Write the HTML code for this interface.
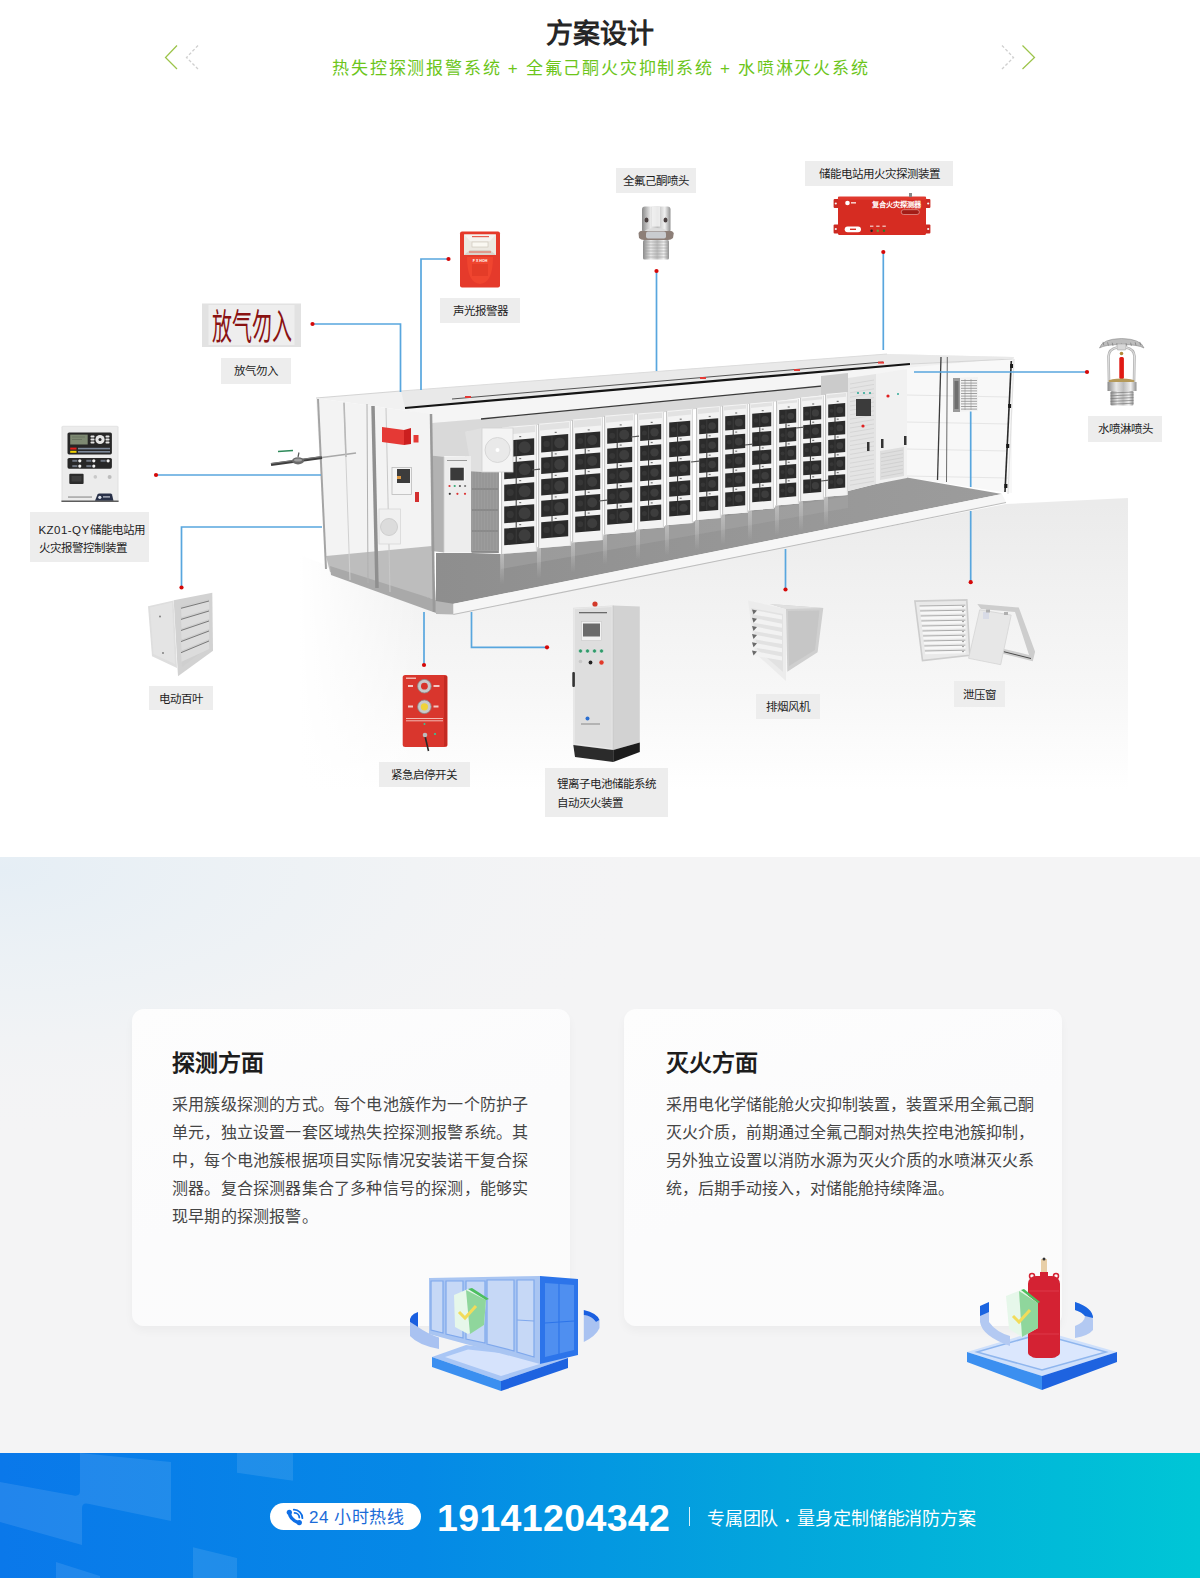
<!DOCTYPE html>
<html lang="zh-CN"><head><meta charset="utf-8">
<style>
*{margin:0;padding:0;box-sizing:border-box}
html,body{width:1200px;height:1578px;overflow:hidden;background:#fff}
body{font-family:"Liberation Sans",sans-serif;position:relative;color:#333}
.abs{position:absolute}
#sec1{position:absolute;left:0;top:0;width:1200px;height:857px;background:#fff;overflow:hidden}
#title{position:absolute;left:0;top:14px;width:1200px;text-align:center;font-size:27px;font-weight:bold;color:#262626;line-height:40px;letter-spacing:0px}
#sub{position:absolute;left:1px;top:55.5px;width:1200px;text-align:center;font-size:17px;color:#6cc51a;line-height:26px;letter-spacing:1.76px;white-space:nowrap}
.lbl{position:absolute;background:#ededed;color:#1e1e1e;font-size:11.5px;font-weight:500;line-height:25px;text-align:center;white-space:nowrap}
#sec2{position:absolute;left:0;top:857px;width:1200px;height:596px;background:#f4f4f5;overflow:hidden}
.card{position:absolute;top:152px;width:438px;height:317px;border-radius:12px;background:linear-gradient(160deg,#fdfdfd 0%,#fbfbfc 50%,#fbfbfb 100%);box-shadow:0 5px 10px rgba(0,0,0,0.035)}
.card h3{position:absolute;left:40px;top:38px;font-size:23px;line-height:32px;color:#1d1d1d;font-weight:bold}
.card .txt{position:absolute;left:40px;top:82px;font-size:16px;line-height:28px;color:#454545;white-space:nowrap;letter-spacing:0.2px}
#sec3{position:absolute;left:0;top:1453px;width:1200px;height:125px;background:linear-gradient(90deg,#0a78ea 0%,#0589e6 35%,#03a6dc 65%,#00c6d6 100%);overflow:hidden}
</style></head><body>
<div id="sec1">
<svg class="abs" style="left:0;top:0" width="1200" height="857" viewBox="0 0 1200 857">
<defs>
<linearGradient id="shad" gradientUnits="userSpaceOnUse" x1="0" y1="505" x2="0" y2="790"><stop offset="0" stop-color="#ebebeb"/><stop offset="0.3" stop-color="#f1f1f1"/><stop offset="0.65" stop-color="#f7f7f7"/><stop offset="1" stop-color="#fff"/></linearGradient>
<linearGradient id="shadL" x1="0" y1="0" x2="1" y2="0"><stop offset="0" stop-color="#fff" stop-opacity="1"/><stop offset="1" stop-color="#fff" stop-opacity="0"/></linearGradient>
<linearGradient id="floorg" x1="0" y1="0" x2="1" y2="0"><stop offset="0" stop-color="#8e8e8e"/><stop offset="0.5" stop-color="#969696"/><stop offset="1" stop-color="#9c9c9c"/></linearGradient>
<linearGradient id="glassg" x1="0" y1="0" x2="0" y2="1"><stop offset="0" stop-color="#f2f2f2"/><stop offset="0.8" stop-color="#e6e6e6"/><stop offset="1" stop-color="#cfcfcf"/></linearGradient>
</defs>
<polygon points="300.0,555.0 449.0,612.0 1006.0,504.0 1128.0,498.0 1128.0,810.0 300.0,810.0" fill="url(#shad)" />
<rect x="299.0" y="540.0" width="130.0" height="280.0" fill="url(#shadL)" />
<polygon points="316.0,398.0 401.0,391.0 887.0,354.0 1014.0,357.0 1012.0,372.0 904.0,372.0 848.0,378.0 470.0,424.0 432.0,430.0 430.0,414.0" fill="#f1f1f1" />
<polygon points="401.0,391.0 887.0,354.0 1014.0,357.0 1012.0,361.0 910.0,364.0 405.0,408.0" fill="#e9e9e9" />
<polygon points="405.0,408.0 910.0,364.0 906.0,371.0 863.0,382.0 481.0,419.0 432.0,423.0" fill="#f5f5f5" />
<polygon points="432.0,423.0 481.0,419.0 863.0,382.0 906.0,371.0 906.0,377.0 848.0,380.0 848.0,394.0 825.0,395.0 800.0,398.0 776.0,401.5 749.0,404.0 722.0,406.5 696.0,409.0 666.0,412.0 637.0,414.5 604.0,417.0 572.0,421.0 538.0,425.0 501.0,429.0 465.0,432.0 432.0,440.0" fill="#d9d9d9" />
<polygon points="904.0,368.0 1012.0,358.0 1012.0,493.0 1002.0,492.0 904.0,477.0" fill="#f8f8f8" />
<line x1="906" y1="395" x2="1008" y2="397" stroke="#e6e6e6" stroke-width="1" />
<line x1="906" y1="422" x2="1008" y2="424" stroke="#e6e6e6" stroke-width="1" />
<line x1="906" y1="449" x2="1008" y2="451" stroke="#e6e6e6" stroke-width="1" />
<line x1="906" y1="476" x2="1008" y2="478" stroke="#e6e6e6" stroke-width="1" />
<polygon points="316.0,398.0 430.0,414.0 432.0,553.0 326.0,568.0" fill="#f3f3f3" />
<polygon points="326.0,556.0 432.0,546.0 436.0,600.0 330.0,572.0" fill="#bdbdbd" />
<polygon points="330.0,566.0 436.0,600.0 436.0,613.0 331.0,575.0" fill="#a9a9a9" />
<polygon points="436.0,604.0 453.0,604.0 1002.0,494.0 904.0,477.0 848.0,491.0 848.0,495.0 825.0,496.8 824.0,499.3 800.0,501.3 799.0,503.6 776.0,505.4 774.0,508.4 749.0,510.4 748.0,512.6 722.0,514.6 721.0,518.0 696.0,520.0 693.0,523.0 666.0,525.2 664.0,527.4 637.0,529.6 635.0,532.0 604.0,534.4 603.0,540.0 572.0,542.4 571.0,545.6 538.0,548.2 537.0,551.2 501.0,554.0 472.0,553.0 436.0,553.0" fill="url(#floorg)" />
<polygon points="501.0,553.0 848.0,496.0 848.0,508.0 501.0,569.0" fill="#a5a5a5" opacity="0.5"/>
<defs><linearGradient id="refl" x1="0" y1="0" x2="0" y2="1"><stop offset="0" stop-color="#c8c8c8" stop-opacity="0.7"/><stop offset="1" stop-color="#c8c8c8" stop-opacity="0"/></linearGradient></defs>
<rect x="500.0" y="554.0" width="4.0" height="30.0" fill="url(#refl)" />
<rect x="537.0" y="548.2" width="4.0" height="30.0" fill="url(#refl)" />
<rect x="571.0" y="542.4" width="4.0" height="30.0" fill="url(#refl)" />
<rect x="603.0" y="534.4" width="4.0" height="30.0" fill="url(#refl)" />
<rect x="636.0" y="529.6" width="4.0" height="30.0" fill="url(#refl)" />
<rect x="665.0" y="525.2" width="4.0" height="30.0" fill="url(#refl)" />
<rect x="695.0" y="520.0" width="4.0" height="30.0" fill="url(#refl)" />
<rect x="721.0" y="514.6" width="4.0" height="30.0" fill="url(#refl)" />
<rect x="748.0" y="510.4" width="4.0" height="30.0" fill="url(#refl)" />
<rect x="775.0" y="505.4" width="4.0" height="30.0" fill="url(#refl)" />
<rect x="799.0" y="501.3" width="4.0" height="30.0" fill="url(#refl)" />
<rect x="824.0" y="496.8" width="4.0" height="30.0" fill="url(#refl)" />
<polygon points="453.3,603.7 1002.0,494.0 1006.0,502.0 453.3,614.0" fill="#f6f6f6" />
<line x1="453.3" y1="614.5" x2="1006" y2="502.5" stroke="#bdbdbd" stroke-width="1.1" />
<polygon points="436.0,601.0 453.3,603.7 453.3,614.5 436.0,614.0" fill="#b5b5b5" />
<line x1="316" y1="398" x2="401" y2="391" stroke="#d4d4d4" stroke-width="1" />
<line x1="401" y1="391" x2="887" y2="354" stroke="#dcdcdc" stroke-width="1" />
<line x1="452" y1="399" x2="883" y2="362" stroke="#555" stroke-width="1" />
<line x1="405" y1="408" x2="910" y2="364" stroke="#151515" stroke-width="2.2" />
<line x1="911" y1="364" x2="1012" y2="359" stroke="#d6d6d6" stroke-width="1.2" />
<line x1="481" y1="419" x2="863" y2="382" stroke="#3a3a3a" stroke-width="1.3" />
<rect x="465.0" y="396.0" width="6.0" height="2.0" fill="#e53935" />
<rect x="700.0" y="377.0" width="6.0" height="2.0" fill="#e53935" />
<rect x="794.0" y="369.0" width="6.0" height="2.0" fill="#e53935" />
<rect x="878.0" y="361.6" width="6.0" height="2.0" fill="#e53935" />
<polygon points="821.0,376.0 848.0,373.0 848.0,392.0 821.0,395.0" fill="#cbcbcb" />
<polygon points="471.0,466.0 499.0,466.0 499.0,553.0 471.0,552.4" fill="#9c9c9c" />
<line x1="472" y1="489" x2="498" y2="489" stroke="#7e7e7e" stroke-width="1.2" />
<line x1="472" y1="510" x2="498" y2="510" stroke="#7e7e7e" stroke-width="1.2" />
<line x1="472" y1="531" x2="498" y2="531" stroke="#7e7e7e" stroke-width="1.2" />
<line x1="472" y1="552" x2="498" y2="552" stroke="#7e7e7e" stroke-width="1.2" />
<line x1="474" y1="470" x2="474" y2="550" stroke="#8e8e8e" stroke-width="0.6" />
<line x1="477" y1="470" x2="477" y2="550" stroke="#8e8e8e" stroke-width="0.6" />
<line x1="480" y1="470" x2="480" y2="550" stroke="#8e8e8e" stroke-width="0.6" />
<line x1="483" y1="470" x2="483" y2="550" stroke="#8e8e8e" stroke-width="0.6" />
<line x1="486" y1="470" x2="486" y2="550" stroke="#8e8e8e" stroke-width="0.6" />
<line x1="489" y1="470" x2="489" y2="550" stroke="#8e8e8e" stroke-width="0.6" />
<line x1="492" y1="470" x2="492" y2="550" stroke="#8e8e8e" stroke-width="0.6" />
<line x1="495" y1="470" x2="495" y2="550" stroke="#8e8e8e" stroke-width="0.6" />
<line x1="498" y1="470" x2="498" y2="550" stroke="#8e8e8e" stroke-width="0.6" />
<polygon points="501.0,427.4 537.0,424.6 537.0,551.2 501.0,554.0" fill="#f3f3f3" />
<polygon points="503.0,428.4 535.0,425.6 535.0,432.1 503.0,434.9" fill="#e2e2e2" />
<line x1="501.6" y1="427.44" x2="501.6" y2="554.0400000000001" stroke="#c4c4c4" stroke-width="1.1" />
<line x1="536.4" y1="424.56" x2="536.4" y2="551.16" stroke="#d6d6d6" stroke-width="1" />
<polygon points="504.2,440.7 534.2,438.3 534.2,454.8 504.2,457.2" fill="#2b2b2b" />
<circle cx="524.6" cy="447.3" r="6.0" fill="#3d3d3d"/>
<circle cx="510.2" cy="448.5" r="3.6" fill="#363636"/>
<line x1="516.2" y1="440.724" x2="516.2" y2="455.2768" stroke="#404040" stroke-width="0.8" />
<polygon points="504.2,462.7 534.2,460.3 534.2,476.8 504.2,479.2" fill="#2b2b2b" />
<circle cx="524.6" cy="469.3" r="6.0" fill="#3d3d3d"/>
<circle cx="510.2" cy="470.5" r="3.6" fill="#363636"/>
<line x1="516.2" y1="462.7108" x2="516.2" y2="477.2636" stroke="#404040" stroke-width="0.8" />
<polygon points="504.2,484.7 534.2,482.3 534.2,498.8 504.2,501.2" fill="#2b2b2b" />
<circle cx="524.6" cy="491.3" r="6.0" fill="#3d3d3d"/>
<circle cx="510.2" cy="492.5" r="3.6" fill="#363636"/>
<line x1="516.2" y1="484.69759999999997" x2="516.2" y2="499.25039999999996" stroke="#404040" stroke-width="0.8" />
<polygon points="504.2,506.6 534.2,504.2 534.2,520.8 504.2,523.2" fill="#2b2b2b" />
<circle cx="524.6" cy="513.3" r="6.0" fill="#3d3d3d"/>
<circle cx="510.2" cy="514.4" r="3.6" fill="#363636"/>
<line x1="516.2" y1="506.6844" x2="516.2" y2="521.2372" stroke="#404040" stroke-width="0.8" />
<polygon points="504.2,528.6 534.2,526.2 534.2,542.8 504.2,545.2" fill="#2b2b2b" />
<circle cx="524.6" cy="535.3" r="6.0" fill="#3d3d3d"/>
<circle cx="510.2" cy="536.4" r="3.6" fill="#363636"/>
<line x1="516.2" y1="528.6712" x2="516.2" y2="543.224" stroke="#404040" stroke-width="0.8" />
<line x1="516.2" y1="456.2768" x2="516.2" y2="527.6712" stroke="#333" stroke-width="1" />
<rect x="519.2" y="436.0" width="2" height="1.2" fill="#777"/>
<rect x="519.2" y="458.0" width="2" height="1.2" fill="#777"/>
<rect x="519.2" y="480.0" width="2" height="1.2" fill="#777"/>
<rect x="519.2" y="502.0" width="2" height="1.2" fill="#777"/>
<rect x="519.2" y="524.0" width="2" height="1.2" fill="#777"/>
<polygon points="538.0,423.7 571.0,421.1 571.0,545.6 538.0,548.2" fill="#f3f3f3" />
<polygon points="540.0,424.7 569.0,422.1 569.0,427.9 540.0,430.5" fill="#e2e2e2" />
<line x1="538.6" y1="423.71999999999997" x2="538.6" y2="548.22" stroke="#c4c4c4" stroke-width="1.1" />
<line x1="570.4" y1="421.08" x2="570.4" y2="545.5799999999999" stroke="#d6d6d6" stroke-width="1" />
<polygon points="541.2,436.3 568.2,434.1 568.2,450.3 541.2,452.5" fill="#2b2b2b" />
<circle cx="559.6" cy="442.9" r="5.4" fill="#3d3d3d"/>
<circle cx="546.6" cy="443.9" r="3.2" fill="#363636"/>
<line x1="552.0" y1="436.4" x2="552.0" y2="450.58847999999995" stroke="#404040" stroke-width="0.8" />
<polygon points="541.2,457.8 568.2,455.6 568.2,471.8 541.2,474.0" fill="#2b2b2b" />
<circle cx="559.6" cy="464.4" r="5.4" fill="#3d3d3d"/>
<circle cx="546.6" cy="465.4" r="3.2" fill="#363636"/>
<line x1="552.0" y1="457.90288" x2="552.0" y2="472.09135999999995" stroke="#404040" stroke-width="0.8" />
<polygon points="541.2,479.3 568.2,477.1 568.2,493.3 541.2,495.5" fill="#2b2b2b" />
<circle cx="559.6" cy="485.9" r="5.4" fill="#3d3d3d"/>
<circle cx="546.6" cy="486.9" r="3.2" fill="#363636"/>
<line x1="552.0" y1="479.40576" x2="552.0" y2="493.59423999999996" stroke="#404040" stroke-width="0.8" />
<polygon points="541.2,500.8 568.2,498.6 568.2,514.8 541.2,517.0" fill="#2b2b2b" />
<circle cx="559.6" cy="507.4" r="5.4" fill="#3d3d3d"/>
<circle cx="546.6" cy="508.4" r="3.2" fill="#363636"/>
<line x1="552.0" y1="500.90863999999993" x2="552.0" y2="515.09712" stroke="#404040" stroke-width="0.8" />
<polygon points="541.2,522.3 568.2,520.1 568.2,536.3 541.2,538.5" fill="#2b2b2b" />
<circle cx="559.6" cy="528.9" r="5.4" fill="#3d3d3d"/>
<circle cx="546.6" cy="529.9" r="3.2" fill="#363636"/>
<line x1="552.0" y1="522.41152" x2="552.0" y2="536.6" stroke="#404040" stroke-width="0.8" />
<line x1="552.0" y1="451.58847999999995" x2="552.0" y2="521.41152" stroke="#333" stroke-width="1" />
<rect x="554.7" y="431.8" width="2" height="1.2" fill="#777"/>
<rect x="554.7" y="453.3" width="2" height="1.2" fill="#777"/>
<rect x="554.7" y="474.8" width="2" height="1.2" fill="#777"/>
<rect x="554.7" y="496.3" width="2" height="1.2" fill="#777"/>
<rect x="554.7" y="517.8" width="2" height="1.2" fill="#777"/>
<polygon points="572.0,419.6 603.0,417.2 603.0,540.0 572.0,542.4" fill="#f3f3f3" />
<polygon points="574.0,420.6 601.0,418.2 601.0,425.4 574.0,427.8" fill="#e2e2e2" />
<line x1="572.6" y1="419.64" x2="572.6" y2="542.44" stroke="#c4c4c4" stroke-width="1.1" />
<line x1="602.4" y1="417.15999999999997" x2="602.4" y2="539.96" stroke="#d6d6d6" stroke-width="1" />
<polygon points="575.2,433.6 600.2,431.6 600.2,447.2 575.2,449.2" fill="#2b2b2b" />
<circle cx="592.2" cy="440.1" r="5.0" fill="#3d3d3d"/>
<circle cx="580.2" cy="441.0" r="3.0" fill="#363636"/>
<line x1="585.2" y1="433.784" x2="585.2" y2="447.44975999999997" stroke="#404040" stroke-width="0.8" />
<polygon points="575.2,454.4 600.2,452.4 600.2,468.1 575.2,470.1" fill="#2b2b2b" />
<circle cx="592.2" cy="460.9" r="5.0" fill="#3d3d3d"/>
<circle cx="580.2" cy="461.8" r="3.0" fill="#363636"/>
<line x1="585.2" y1="454.59256" x2="585.2" y2="468.25831999999997" stroke="#404040" stroke-width="0.8" />
<polygon points="575.2,475.2 600.2,473.2 600.2,488.9 575.2,490.9" fill="#2b2b2b" />
<circle cx="592.2" cy="481.7" r="5.0" fill="#3d3d3d"/>
<circle cx="580.2" cy="482.6" r="3.0" fill="#363636"/>
<line x1="585.2" y1="475.40112" x2="585.2" y2="489.06687999999997" stroke="#404040" stroke-width="0.8" />
<polygon points="575.2,496.0 600.2,494.0 600.2,509.7 575.2,511.7" fill="#2b2b2b" />
<circle cx="592.2" cy="502.5" r="5.0" fill="#3d3d3d"/>
<circle cx="580.2" cy="503.4" r="3.0" fill="#363636"/>
<line x1="585.2" y1="496.20968" x2="585.2" y2="509.87543999999997" stroke="#404040" stroke-width="0.8" />
<polygon points="575.2,516.8 600.2,514.8 600.2,530.5 575.2,532.5" fill="#2b2b2b" />
<circle cx="592.2" cy="523.3" r="5.0" fill="#3d3d3d"/>
<circle cx="580.2" cy="524.3" r="3.0" fill="#363636"/>
<line x1="585.2" y1="517.01824" x2="585.2" y2="530.684" stroke="#404040" stroke-width="0.8" />
<line x1="585.2" y1="448.44975999999997" x2="585.2" y2="516.01824" stroke="#333" stroke-width="1" />
<rect x="587.7" y="429.3" width="2" height="1.2" fill="#777"/>
<rect x="587.7" y="450.1" width="2" height="1.2" fill="#777"/>
<rect x="587.7" y="470.9" width="2" height="1.2" fill="#777"/>
<rect x="587.7" y="491.7" width="2" height="1.2" fill="#777"/>
<rect x="587.7" y="512.5" width="2" height="1.2" fill="#777"/>
<polygon points="604.0,415.7 635.0,413.3 635.0,532.0 604.0,534.4" fill="#f3f3f3" />
<polygon points="606.0,416.7 633.0,414.3 633.0,420.3 606.0,422.7" fill="#e2e2e2" />
<line x1="604.6" y1="415.74" x2="604.6" y2="534.44" stroke="#c4c4c4" stroke-width="1.1" />
<line x1="634.4" y1="413.26" x2="634.4" y2="531.96" stroke="#d6d6d6" stroke-width="1" />
<polygon points="607.2,428.5 632.2,426.5 632.2,441.7 607.2,443.7" fill="#2b2b2b" />
<circle cx="624.2" cy="434.8" r="5.0" fill="#3d3d3d"/>
<circle cx="612.2" cy="435.7" r="3.0" fill="#363636"/>
<line x1="617.2" y1="428.68399999999997" x2="617.2" y2="441.93791999999996" stroke="#404040" stroke-width="0.8" />
<polygon points="607.2,448.7 632.2,446.7 632.2,462.0 607.2,464.0" fill="#2b2b2b" />
<circle cx="624.2" cy="455.0" r="5.0" fill="#3d3d3d"/>
<circle cx="612.2" cy="456.0" r="3.0" fill="#363636"/>
<line x1="617.2" y1="448.94552" x2="617.2" y2="462.19944" stroke="#404040" stroke-width="0.8" />
<polygon points="607.2,469.0 632.2,467.0 632.2,482.3 607.2,484.3" fill="#2b2b2b" />
<circle cx="624.2" cy="475.3" r="5.0" fill="#3d3d3d"/>
<circle cx="612.2" cy="476.2" r="3.0" fill="#363636"/>
<line x1="617.2" y1="469.20703999999995" x2="617.2" y2="482.46095999999994" stroke="#404040" stroke-width="0.8" />
<polygon points="607.2,489.3 632.2,487.3 632.2,502.5 607.2,504.5" fill="#2b2b2b" />
<circle cx="624.2" cy="495.5" r="5.0" fill="#3d3d3d"/>
<circle cx="612.2" cy="496.5" r="3.0" fill="#363636"/>
<line x1="617.2" y1="489.4685599999999" x2="617.2" y2="502.7224799999999" stroke="#404040" stroke-width="0.8" />
<polygon points="607.2,509.5 632.2,507.5 632.2,522.8 607.2,524.8" fill="#2b2b2b" />
<circle cx="624.2" cy="515.8" r="5.0" fill="#3d3d3d"/>
<circle cx="612.2" cy="516.8" r="3.0" fill="#363636"/>
<line x1="617.2" y1="509.73007999999993" x2="617.2" y2="522.9839999999999" stroke="#404040" stroke-width="0.8" />
<line x1="617.2" y1="442.93791999999996" x2="617.2" y2="508.73007999999993" stroke="#333" stroke-width="1" />
<rect x="619.7" y="424.3" width="2" height="1.2" fill="#777"/>
<rect x="619.7" y="444.5" width="2" height="1.2" fill="#777"/>
<rect x="619.7" y="464.8" width="2" height="1.2" fill="#777"/>
<rect x="619.7" y="485.1" width="2" height="1.2" fill="#777"/>
<rect x="619.7" y="505.3" width="2" height="1.2" fill="#777"/>
<polygon points="637.0,413.6 664.0,411.4 664.0,527.4 637.0,529.6" fill="#f3f3f3" />
<polygon points="639.0,414.6 662.0,412.4 662.0,417.9 639.0,420.1" fill="#e2e2e2" />
<line x1="637.6" y1="413.58" x2="637.6" y2="529.58" stroke="#c4c4c4" stroke-width="1.1" />
<line x1="663.4" y1="411.42" x2="663.4" y2="527.42" stroke="#d6d6d6" stroke-width="1" />
<polygon points="640.2,425.8 661.2,424.1 661.2,439.3 640.2,441.0" fill="#2b2b2b" />
<circle cx="654.5" cy="432.3" r="4.2" fill="#3d3d3d"/>
<circle cx="644.4" cy="433.1" r="2.5" fill="#363636"/>
<line x1="648.6" y1="426.152" x2="648.6" y2="439.29504" stroke="#404040" stroke-width="0.8" />
<polygon points="640.2,445.9 661.2,444.3 661.2,459.4 640.2,461.1" fill="#2b2b2b" />
<circle cx="654.5" cy="452.4" r="4.2" fill="#3d3d3d"/>
<circle cx="644.4" cy="453.2" r="2.5" fill="#363636"/>
<line x1="648.6" y1="446.26624" x2="648.6" y2="459.40927999999997" stroke="#404040" stroke-width="0.8" />
<polygon points="640.2,466.1 661.2,464.4 661.2,479.5 640.2,481.2" fill="#2b2b2b" />
<circle cx="654.5" cy="472.5" r="4.2" fill="#3d3d3d"/>
<circle cx="644.4" cy="473.3" r="2.5" fill="#363636"/>
<line x1="648.6" y1="466.38048" x2="648.6" y2="479.52351999999996" stroke="#404040" stroke-width="0.8" />
<polygon points="640.2,486.2 661.2,484.5 661.2,499.6 640.2,501.3" fill="#2b2b2b" />
<circle cx="654.5" cy="492.6" r="4.2" fill="#3d3d3d"/>
<circle cx="644.4" cy="493.4" r="2.5" fill="#363636"/>
<line x1="648.6" y1="486.49472" x2="648.6" y2="499.63775999999996" stroke="#404040" stroke-width="0.8" />
<polygon points="640.2,506.3 661.2,504.6 661.2,519.7 640.2,521.4" fill="#2b2b2b" />
<circle cx="654.5" cy="512.7" r="4.2" fill="#3d3d3d"/>
<circle cx="644.4" cy="513.5" r="2.5" fill="#363636"/>
<line x1="648.6" y1="506.60895999999997" x2="648.6" y2="519.7520000000001" stroke="#404040" stroke-width="0.8" />
<line x1="648.6" y1="440.29504" x2="648.6" y2="505.60896" stroke="#333" stroke-width="1" />
<rect x="650.7" y="421.8" width="2" height="1.2" fill="#777"/>
<rect x="650.7" y="441.9" width="2" height="1.2" fill="#777"/>
<rect x="650.7" y="462.0" width="2" height="1.2" fill="#777"/>
<rect x="650.7" y="482.2" width="2" height="1.2" fill="#777"/>
<rect x="650.7" y="502.3" width="2" height="1.2" fill="#777"/>
<polygon points="666.0,410.9 693.0,408.7 693.0,523.0 666.0,525.2" fill="#f3f3f3" />
<polygon points="668.0,411.9 691.0,409.7 691.0,414.6 668.0,416.8" fill="#e2e2e2" />
<line x1="666.6" y1="410.88" x2="666.6" y2="525.1800000000001" stroke="#c4c4c4" stroke-width="1.1" />
<line x1="692.4" y1="408.72" x2="692.4" y2="523.02" stroke="#d6d6d6" stroke-width="1" />
<polygon points="669.2,422.5 690.2,420.8 690.2,435.7 669.2,437.4" fill="#2b2b2b" />
<circle cx="683.5" cy="428.8" r="4.2" fill="#3d3d3d"/>
<circle cx="673.4" cy="429.6" r="2.5" fill="#363636"/>
<line x1="677.6" y1="422.852" x2="677.6" y2="435.7416" stroke="#404040" stroke-width="0.8" />
<polygon points="669.2,442.3 690.2,440.6 690.2,455.5 669.2,457.2" fill="#2b2b2b" />
<circle cx="683.5" cy="448.6" r="4.2" fill="#3d3d3d"/>
<circle cx="673.4" cy="449.4" r="2.5" fill="#363636"/>
<line x1="677.6" y1="442.6296" x2="677.6" y2="455.5192" stroke="#404040" stroke-width="0.8" />
<polygon points="669.2,462.1 690.2,460.4 690.2,475.3 669.2,477.0" fill="#2b2b2b" />
<circle cx="683.5" cy="468.4" r="4.2" fill="#3d3d3d"/>
<circle cx="673.4" cy="469.2" r="2.5" fill="#363636"/>
<line x1="677.6" y1="462.4072" x2="677.6" y2="475.2968" stroke="#404040" stroke-width="0.8" />
<polygon points="669.2,481.9 690.2,480.2 690.2,495.1 669.2,496.7" fill="#2b2b2b" />
<circle cx="683.5" cy="488.2" r="4.2" fill="#3d3d3d"/>
<circle cx="673.4" cy="489.0" r="2.5" fill="#363636"/>
<line x1="677.6" y1="482.1848" x2="677.6" y2="495.0744" stroke="#404040" stroke-width="0.8" />
<polygon points="669.2,501.6 690.2,500.0 690.2,514.8 669.2,516.5" fill="#2b2b2b" />
<circle cx="683.5" cy="507.9" r="4.2" fill="#3d3d3d"/>
<circle cx="673.4" cy="508.7" r="2.5" fill="#363636"/>
<line x1="677.6" y1="501.96240000000006" x2="677.6" y2="514.8520000000001" stroke="#404040" stroke-width="0.8" />
<line x1="677.6" y1="436.7416" x2="677.6" y2="500.9624" stroke="#333" stroke-width="1" />
<rect x="679.7" y="418.6" width="2" height="1.2" fill="#777"/>
<rect x="679.7" y="438.3" width="2" height="1.2" fill="#777"/>
<rect x="679.7" y="458.1" width="2" height="1.2" fill="#777"/>
<rect x="679.7" y="477.9" width="2" height="1.2" fill="#777"/>
<rect x="679.7" y="497.7" width="2" height="1.2" fill="#777"/>
<polygon points="696.0,408.0 721.0,406.0 721.0,518.0 696.0,520.0" fill="#f3f3f3" />
<polygon points="698.0,409.0 719.0,407.0 719.0,412.0 698.0,414.0" fill="#e2e2e2" />
<line x1="696.6" y1="408.0" x2="696.6" y2="520.0" stroke="#c4c4c4" stroke-width="1.1" />
<line x1="720.4" y1="406.0" x2="720.4" y2="518.0" stroke="#d6d6d6" stroke-width="1" />
<polygon points="699.2,419.7 718.2,418.2 718.2,432.8 699.2,434.3" fill="#2b2b2b" />
<circle cx="712.1" cy="426.0" r="3.8" fill="#3d3d3d"/>
<circle cx="703.0" cy="426.7" r="2.3" fill="#363636"/>
<line x1="706.8000000000001" y1="420.13599999999997" x2="706.8000000000001" y2="432.67711999999995" stroke="#404040" stroke-width="0.8" />
<polygon points="699.2,439.1 718.2,437.5 718.2,452.1 699.2,453.6" fill="#2b2b2b" />
<circle cx="712.1" cy="445.3" r="3.8" fill="#3d3d3d"/>
<circle cx="703.0" cy="446.0" r="2.3" fill="#363636"/>
<line x1="706.8000000000001" y1="439.45072" x2="706.8000000000001" y2="451.99183999999997" stroke="#404040" stroke-width="0.8" />
<polygon points="699.2,458.4 718.2,456.9 718.2,471.4 699.2,472.9" fill="#2b2b2b" />
<circle cx="712.1" cy="464.6" r="3.8" fill="#3d3d3d"/>
<circle cx="703.0" cy="465.3" r="2.3" fill="#363636"/>
<line x1="706.8000000000001" y1="458.76543999999996" x2="706.8000000000001" y2="471.30655999999993" stroke="#404040" stroke-width="0.8" />
<polygon points="699.2,477.7 718.2,476.2 718.2,490.7 699.2,492.2" fill="#2b2b2b" />
<circle cx="712.1" cy="483.9" r="3.8" fill="#3d3d3d"/>
<circle cx="703.0" cy="484.7" r="2.3" fill="#363636"/>
<line x1="706.8000000000001" y1="478.08016" x2="706.8000000000001" y2="490.62127999999996" stroke="#404040" stroke-width="0.8" />
<polygon points="699.2,497.0 718.2,495.5 718.2,510.0 699.2,511.5" fill="#2b2b2b" />
<circle cx="712.1" cy="503.2" r="3.8" fill="#3d3d3d"/>
<circle cx="703.0" cy="504.0" r="2.3" fill="#363636"/>
<line x1="706.8000000000001" y1="497.39487999999994" x2="706.8000000000001" y2="509.9359999999999" stroke="#404040" stroke-width="0.8" />
<line x1="706.8000000000001" y1="433.67711999999995" x2="706.8000000000001" y2="496.39488" stroke="#333" stroke-width="1" />
<rect x="708.7" y="415.9" width="2" height="1.2" fill="#777"/>
<rect x="708.7" y="435.2" width="2" height="1.2" fill="#777"/>
<rect x="708.7" y="454.6" width="2" height="1.2" fill="#777"/>
<rect x="708.7" y="473.9" width="2" height="1.2" fill="#777"/>
<rect x="708.7" y="493.2" width="2" height="1.2" fill="#777"/>
<polygon points="722.0,405.8 748.0,403.8 748.0,512.6 722.0,514.6" fill="#f3f3f3" />
<polygon points="724.0,406.8 746.0,404.8 746.0,408.5 724.0,410.5" fill="#e2e2e2" />
<line x1="722.6" y1="405.84000000000003" x2="722.6" y2="514.64" stroke="#c4c4c4" stroke-width="1.1" />
<line x1="747.4" y1="403.76" x2="747.4" y2="512.5600000000001" stroke="#d6d6d6" stroke-width="1" />
<polygon points="725.2,416.3 745.2,414.7 745.2,429.0 725.2,430.6" fill="#2b2b2b" />
<circle cx="738.8" cy="422.4" r="4.0" fill="#3d3d3d"/>
<circle cx="729.2" cy="423.1" r="2.4" fill="#363636"/>
<line x1="733.2" y1="416.644" x2="733.2" y2="428.99504" stroke="#404040" stroke-width="0.8" />
<polygon points="725.2,435.3 745.2,433.7 745.2,448.1 725.2,449.7" fill="#2b2b2b" />
<circle cx="738.8" cy="441.4" r="4.0" fill="#3d3d3d"/>
<circle cx="729.2" cy="442.2" r="2.4" fill="#363636"/>
<line x1="733.2" y1="435.70624000000004" x2="733.2" y2="448.05728000000005" stroke="#404040" stroke-width="0.8" />
<polygon points="725.2,454.4 745.2,452.8 745.2,467.2 725.2,468.8" fill="#2b2b2b" />
<circle cx="738.8" cy="460.5" r="4.0" fill="#3d3d3d"/>
<circle cx="729.2" cy="461.3" r="2.4" fill="#363636"/>
<line x1="733.2" y1="454.76848" x2="733.2" y2="467.11952" stroke="#404040" stroke-width="0.8" />
<polygon points="725.2,473.5 745.2,471.9 745.2,486.2 725.2,487.8" fill="#2b2b2b" />
<circle cx="738.8" cy="479.6" r="4.0" fill="#3d3d3d"/>
<circle cx="729.2" cy="480.3" r="2.4" fill="#363636"/>
<line x1="733.2" y1="473.83072000000004" x2="733.2" y2="486.18176000000005" stroke="#404040" stroke-width="0.8" />
<polygon points="725.2,492.5 745.2,490.9 745.2,505.3 725.2,506.9" fill="#2b2b2b" />
<circle cx="738.8" cy="498.6" r="4.0" fill="#3d3d3d"/>
<circle cx="729.2" cy="499.4" r="2.4" fill="#363636"/>
<line x1="733.2" y1="492.89296" x2="733.2" y2="505.244" stroke="#404040" stroke-width="0.8" />
<line x1="733.2" y1="429.99504" x2="733.2" y2="491.89296" stroke="#333" stroke-width="1" />
<rect x="735.2" y="412.4" width="2" height="1.2" fill="#777"/>
<rect x="735.2" y="431.5" width="2" height="1.2" fill="#777"/>
<rect x="735.2" y="450.6" width="2" height="1.2" fill="#777"/>
<rect x="735.2" y="469.6" width="2" height="1.2" fill="#777"/>
<rect x="735.2" y="488.7" width="2" height="1.2" fill="#777"/>
<polygon points="749.0,403.4 774.0,401.4 774.0,508.4 749.0,510.4" fill="#f3f3f3" />
<polygon points="751.0,404.4 772.0,402.4 772.0,406.0 751.0,408.0" fill="#e2e2e2" />
<line x1="749.6" y1="403.4" x2="749.6" y2="510.4" stroke="#c4c4c4" stroke-width="1.1" />
<line x1="773.4" y1="401.4" x2="773.4" y2="508.4" stroke="#d6d6d6" stroke-width="1" />
<polygon points="752.2,413.7 771.2,412.2 771.2,426.3 752.2,427.8" fill="#2b2b2b" />
<circle cx="765.1" cy="419.7" r="3.8" fill="#3d3d3d"/>
<circle cx="756.0" cy="420.5" r="2.3" fill="#363636"/>
<line x1="759.8000000000001" y1="414.13599999999997" x2="759.8000000000001" y2="426.17024" stroke="#404040" stroke-width="0.8" />
<polygon points="752.2,432.4 771.2,430.9 771.2,444.9 752.2,446.4" fill="#2b2b2b" />
<circle cx="765.1" cy="438.4" r="3.8" fill="#3d3d3d"/>
<circle cx="756.0" cy="439.1" r="2.3" fill="#363636"/>
<line x1="759.8000000000001" y1="432.77743999999996" x2="759.8000000000001" y2="444.81167999999997" stroke="#404040" stroke-width="0.8" />
<polygon points="752.2,451.0 771.2,449.5 771.2,463.5 752.2,465.1" fill="#2b2b2b" />
<circle cx="765.1" cy="457.0" r="3.8" fill="#3d3d3d"/>
<circle cx="756.0" cy="457.7" r="2.3" fill="#363636"/>
<line x1="759.8000000000001" y1="451.41888" x2="759.8000000000001" y2="463.45312" stroke="#404040" stroke-width="0.8" />
<polygon points="752.2,469.7 771.2,468.1 771.2,482.2 752.2,483.7" fill="#2b2b2b" />
<circle cx="765.1" cy="475.7" r="3.8" fill="#3d3d3d"/>
<circle cx="756.0" cy="476.4" r="2.3" fill="#363636"/>
<line x1="759.8000000000001" y1="470.06032" x2="759.8000000000001" y2="482.09456" stroke="#404040" stroke-width="0.8" />
<polygon points="752.2,488.3 771.2,486.8 771.2,500.8 752.2,502.3" fill="#2b2b2b" />
<circle cx="765.1" cy="494.3" r="3.8" fill="#3d3d3d"/>
<circle cx="756.0" cy="495.0" r="2.3" fill="#363636"/>
<line x1="759.8000000000001" y1="488.70176" x2="759.8000000000001" y2="500.736" stroke="#404040" stroke-width="0.8" />
<line x1="759.8000000000001" y1="427.17024" x2="759.8000000000001" y2="487.70176" stroke="#333" stroke-width="1" />
<rect x="761.7" y="410.0" width="2" height="1.2" fill="#777"/>
<rect x="761.7" y="428.6" width="2" height="1.2" fill="#777"/>
<rect x="761.7" y="447.3" width="2" height="1.2" fill="#777"/>
<rect x="761.7" y="465.9" width="2" height="1.2" fill="#777"/>
<rect x="761.7" y="484.6" width="2" height="1.2" fill="#777"/>
<polygon points="776.0,400.8 799.0,399.0 799.0,503.6 776.0,505.4" fill="#f3f3f3" />
<polygon points="778.0,401.8 797.0,400.0 797.0,402.5 778.0,404.3" fill="#e2e2e2" />
<line x1="776.6" y1="400.82" x2="776.6" y2="505.42" stroke="#c4c4c4" stroke-width="1.1" />
<line x1="798.4" y1="398.97999999999996" x2="798.4" y2="503.58" stroke="#d6d6d6" stroke-width="1" />
<polygon points="779.2,410.1 796.2,408.7 796.2,422.6 779.2,423.9" fill="#2b2b2b" />
<circle cx="790.8" cy="416.1" r="3.4" fill="#3d3d3d"/>
<circle cx="782.6" cy="416.7" r="2.0" fill="#363636"/>
<line x1="786.0" y1="410.52" x2="786.0" y2="422.39583999999996" stroke="#404040" stroke-width="0.8" />
<polygon points="779.2,428.5 796.2,427.1 796.2,441.0 779.2,442.4" fill="#2b2b2b" />
<circle cx="790.8" cy="434.5" r="3.4" fill="#3d3d3d"/>
<circle cx="782.6" cy="435.2" r="2.0" fill="#363636"/>
<line x1="786.0" y1="428.95104" x2="786.0" y2="440.82687999999996" stroke="#404040" stroke-width="0.8" />
<polygon points="779.2,446.9 796.2,445.6 796.2,459.4 779.2,460.8" fill="#2b2b2b" />
<circle cx="790.8" cy="452.9" r="3.4" fill="#3d3d3d"/>
<circle cx="782.6" cy="453.6" r="2.0" fill="#363636"/>
<line x1="786.0" y1="447.38208" x2="786.0" y2="459.25791999999996" stroke="#404040" stroke-width="0.8" />
<polygon points="779.2,465.4 796.2,464.0 796.2,477.9 779.2,479.2" fill="#2b2b2b" />
<circle cx="790.8" cy="471.4" r="3.4" fill="#3d3d3d"/>
<circle cx="782.6" cy="472.0" r="2.0" fill="#363636"/>
<line x1="786.0" y1="465.81311999999997" x2="786.0" y2="477.68895999999995" stroke="#404040" stroke-width="0.8" />
<polygon points="779.2,483.8 796.2,482.4 796.2,496.3 779.2,497.7" fill="#2b2b2b" />
<circle cx="790.8" cy="489.8" r="3.4" fill="#3d3d3d"/>
<circle cx="782.6" cy="490.5" r="2.0" fill="#363636"/>
<line x1="786.0" y1="484.24415999999997" x2="786.0" y2="496.11999999999995" stroke="#404040" stroke-width="0.8" />
<line x1="786.0" y1="423.39583999999996" x2="786.0" y2="483.24416" stroke="#333" stroke-width="1" />
<rect x="787.7" y="406.4" width="2" height="1.2" fill="#777"/>
<rect x="787.7" y="424.9" width="2" height="1.2" fill="#777"/>
<rect x="787.7" y="443.3" width="2" height="1.2" fill="#777"/>
<rect x="787.7" y="461.7" width="2" height="1.2" fill="#777"/>
<rect x="787.7" y="480.2" width="2" height="1.2" fill="#777"/>
<polygon points="800.0,397.6 824.0,395.6 824.0,499.3 800.0,501.3" fill="#f3f3f3" />
<polygon points="802.0,398.6 822.0,396.6 822.0,399.3 802.0,401.3" fill="#e2e2e2" />
<line x1="800.6" y1="397.56" x2="800.6" y2="501.26" stroke="#c4c4c4" stroke-width="1.1" />
<line x1="823.4" y1="395.64000000000004" x2="823.4" y2="499.34000000000003" stroke="#d6d6d6" stroke-width="1" />
<polygon points="803.2,407.0 821.2,405.6 821.2,419.3 803.2,420.7" fill="#2b2b2b" />
<circle cx="815.4" cy="412.9" r="3.6" fill="#3d3d3d"/>
<circle cx="806.8" cy="413.6" r="2.2" fill="#363636"/>
<line x1="810.4000000000001" y1="407.428" x2="810.4000000000001" y2="419.1296" stroke="#404040" stroke-width="0.8" />
<polygon points="803.2,425.2 821.2,423.8 821.2,437.5 803.2,438.9" fill="#2b2b2b" />
<circle cx="815.4" cy="431.1" r="3.6" fill="#3d3d3d"/>
<circle cx="806.8" cy="431.8" r="2.2" fill="#363636"/>
<line x1="810.4000000000001" y1="425.6276" x2="810.4000000000001" y2="437.32919999999996" stroke="#404040" stroke-width="0.8" />
<polygon points="803.2,443.4 821.2,442.0 821.2,455.7 803.2,457.1" fill="#2b2b2b" />
<circle cx="815.4" cy="449.3" r="3.6" fill="#3d3d3d"/>
<circle cx="806.8" cy="450.0" r="2.2" fill="#363636"/>
<line x1="810.4000000000001" y1="443.8272" x2="810.4000000000001" y2="455.5288" stroke="#404040" stroke-width="0.8" />
<polygon points="803.2,461.6 821.2,460.2 821.2,473.9 803.2,475.3" fill="#2b2b2b" />
<circle cx="815.4" cy="467.5" r="3.6" fill="#3d3d3d"/>
<circle cx="806.8" cy="468.2" r="2.2" fill="#363636"/>
<line x1="810.4000000000001" y1="462.0268" x2="810.4000000000001" y2="473.72839999999997" stroke="#404040" stroke-width="0.8" />
<polygon points="803.2,479.8 821.2,478.4 821.2,492.1 803.2,493.5" fill="#2b2b2b" />
<circle cx="815.4" cy="485.7" r="3.6" fill="#3d3d3d"/>
<circle cx="806.8" cy="486.4" r="2.2" fill="#363636"/>
<line x1="810.4000000000001" y1="480.2264" x2="810.4000000000001" y2="491.928" stroke="#404040" stroke-width="0.8" />
<line x1="810.4000000000001" y1="420.1296" x2="810.4000000000001" y2="479.2264" stroke="#333" stroke-width="1" />
<rect x="812.2" y="403.4" width="2" height="1.2" fill="#777"/>
<rect x="812.2" y="421.6" width="2" height="1.2" fill="#777"/>
<rect x="812.2" y="439.8" width="2" height="1.2" fill="#777"/>
<rect x="812.2" y="458.0" width="2" height="1.2" fill="#777"/>
<rect x="812.2" y="476.2" width="2" height="1.2" fill="#777"/>
<polygon points="825.0,393.9 848.0,392.1 848.0,495.0 825.0,496.8" fill="#f3f3f3" />
<polygon points="827.0,394.9 846.0,393.1 846.0,396.8 827.0,398.6" fill="#e2e2e2" />
<line x1="825.6" y1="393.92" x2="825.6" y2="496.82" stroke="#c4c4c4" stroke-width="1.1" />
<line x1="847.4" y1="392.08" x2="847.4" y2="494.97999999999996" stroke="#d6d6d6" stroke-width="1" />
<polygon points="828.2,404.4 845.2,403.0 845.2,416.4 828.2,417.8" fill="#2b2b2b" />
<circle cx="839.8" cy="410.1" r="3.4" fill="#3d3d3d"/>
<circle cx="831.6" cy="410.8" r="2.0" fill="#363636"/>
<line x1="835.0" y1="404.82" x2="835.0" y2="416.22064" stroke="#404040" stroke-width="0.8" />
<polygon points="828.2,422.2 845.2,420.8 845.2,434.2 828.2,435.6" fill="#2b2b2b" />
<circle cx="839.8" cy="427.9" r="3.4" fill="#3d3d3d"/>
<circle cx="831.6" cy="428.6" r="2.0" fill="#363636"/>
<line x1="835.0" y1="422.61984" x2="835.0" y2="434.02048" stroke="#404040" stroke-width="0.8" />
<polygon points="828.2,440.0 845.2,438.6 845.2,452.0 828.2,453.4" fill="#2b2b2b" />
<circle cx="839.8" cy="445.7" r="3.4" fill="#3d3d3d"/>
<circle cx="831.6" cy="446.4" r="2.0" fill="#363636"/>
<line x1="835.0" y1="440.41968" x2="835.0" y2="451.82032000000004" stroke="#404040" stroke-width="0.8" />
<polygon points="828.2,457.8 845.2,456.4 845.2,469.8 828.2,471.2" fill="#2b2b2b" />
<circle cx="839.8" cy="463.5" r="3.4" fill="#3d3d3d"/>
<circle cx="831.6" cy="464.2" r="2.0" fill="#363636"/>
<line x1="835.0" y1="458.21952" x2="835.0" y2="469.62016" stroke="#404040" stroke-width="0.8" />
<polygon points="828.2,475.6 845.2,474.2 845.2,487.6 828.2,489.0" fill="#2b2b2b" />
<circle cx="839.8" cy="481.3" r="3.4" fill="#3d3d3d"/>
<circle cx="831.6" cy="482.0" r="2.0" fill="#363636"/>
<line x1="835.0" y1="476.01936" x2="835.0" y2="487.42" stroke="#404040" stroke-width="0.8" />
<line x1="835.0" y1="417.22064" x2="835.0" y2="475.01936" stroke="#333" stroke-width="1" />
<rect x="836.7" y="400.8" width="2" height="1.2" fill="#777"/>
<rect x="836.7" y="418.6" width="2" height="1.2" fill="#777"/>
<rect x="836.7" y="436.4" width="2" height="1.2" fill="#777"/>
<rect x="836.7" y="454.2" width="2" height="1.2" fill="#777"/>
<rect x="836.7" y="472.0" width="2" height="1.2" fill="#777"/>
<line x1="532" y1="470" x2="540" y2="469.2" stroke="#555" stroke-width="1.2" />
<line x1="599" y1="501" x2="607" y2="500.2" stroke="#555" stroke-width="1.2" />
<line x1="631" y1="437" x2="639" y2="436.2" stroke="#555" stroke-width="1.2" />
<line x1="691" y1="462" x2="699" y2="461.2" stroke="#555" stroke-width="1.2" />
<line x1="745" y1="445" x2="753" y2="444.2" stroke="#555" stroke-width="1.2" />
<line x1="796" y1="428" x2="804" y2="427.2" stroke="#555" stroke-width="1.2" />
<line x1="821" y1="481" x2="829" y2="480.2" stroke="#555" stroke-width="1.2" />
<polygon points="465.0,432.0 482.0,428.0 482.0,472.0 465.0,471.0" fill="#e0e0e0" />
<rect x="482.0" y="428.0" width="31.0" height="44.0" fill="#f4f4f4" stroke="#d2d2d2" stroke-width="0.8"/>
<circle cx="497.5" cy="450" r="12.5" fill="#e9e9e9" stroke="#d0d0d0" stroke-width="0.8"/>
<circle cx="497.5" cy="450" r="2" fill="#fff"/>
<polygon points="430.0,428.0 465.0,432.0 471.0,467.0 471.0,456.0 431.0,456.0" fill="#d9d9d9" />
<polygon points="431.3,455.8 444.0,456.6 444.0,552.4 431.3,551.0" fill="#b2b2b2" />
<polygon points="444.0,456.6 471.0,456.0 471.0,552.4 444.0,552.4" fill="#ededed" />
<line x1="444" y1="456.6" x2="444" y2="552.4" stroke="#d0d0d0" stroke-width="0.8" />
<rect x="449.5" y="466.8" width="15.2" height="14.6" fill="#f8f8f8" />
<rect x="450.3" y="467.7" width="13.5" height="12.7" fill="#3a3a3a" />
<circle cx="449.5" cy="486" r="1.1" fill="#d33"/>
<circle cx="454.7" cy="486" r="1.1" fill="#3a7"/>
<circle cx="459.9" cy="486" r="1.1" fill="#555"/>
<circle cx="465.1" cy="486" r="1.1" fill="#777"/>
<circle cx="449.8" cy="493.8" r="1.1" fill="#333"/>
<circle cx="457.40000000000003" cy="493.8" r="1.1" fill="#d33"/>
<circle cx="465.0" cy="493.8" r="1.1" fill="#d33"/>
<rect x="447.0" y="460.0" width="20.0" height="1.0" fill="#999" />
<polygon points="848.0,378.0 876.0,374.0 876.0,484.0 848.0,491.0" fill="#e4e4e4" />
<line x1="850" y1="384.0" x2="874" y2="380.0" stroke="#d2d2d2" stroke-width="0.8" />
<line x1="850" y1="388.4" x2="874" y2="384.4" stroke="#d2d2d2" stroke-width="0.8" />
<line x1="850" y1="392.8" x2="874" y2="388.8" stroke="#d2d2d2" stroke-width="0.8" />
<line x1="850" y1="397.2" x2="874" y2="393.2" stroke="#d2d2d2" stroke-width="0.8" />
<line x1="850" y1="401.6" x2="874" y2="397.6" stroke="#d2d2d2" stroke-width="0.8" />
<line x1="850" y1="406.0" x2="874" y2="402.0" stroke="#d2d2d2" stroke-width="0.8" />
<line x1="850" y1="410.4" x2="874" y2="406.4" stroke="#d2d2d2" stroke-width="0.8" />
<line x1="850" y1="414.8" x2="874" y2="410.8" stroke="#d2d2d2" stroke-width="0.8" />
<line x1="850" y1="419.2" x2="874" y2="415.2" stroke="#d2d2d2" stroke-width="0.8" />
<line x1="850" y1="423.6" x2="874" y2="419.6" stroke="#d2d2d2" stroke-width="0.8" />
<line x1="850" y1="428.0" x2="874" y2="424.0" stroke="#d2d2d2" stroke-width="0.8" />
<line x1="850" y1="432.4" x2="874" y2="428.4" stroke="#d2d2d2" stroke-width="0.8" />
<line x1="850" y1="436.8" x2="874" y2="432.8" stroke="#d2d2d2" stroke-width="0.8" />
<line x1="850" y1="441.2" x2="874" y2="437.2" stroke="#d2d2d2" stroke-width="0.8" />
<line x1="850" y1="445.6" x2="874" y2="441.6" stroke="#d2d2d2" stroke-width="0.8" />
<line x1="850" y1="450.0" x2="874" y2="446.0" stroke="#d2d2d2" stroke-width="0.8" />
<line x1="850" y1="454.4" x2="874" y2="450.4" stroke="#d2d2d2" stroke-width="0.8" />
<line x1="850" y1="458.8" x2="874" y2="454.8" stroke="#d2d2d2" stroke-width="0.8" />
<line x1="850" y1="463.2" x2="874" y2="459.2" stroke="#d2d2d2" stroke-width="0.8" />
<line x1="850" y1="467.6" x2="874" y2="463.6" stroke="#d2d2d2" stroke-width="0.8" />
<line x1="850" y1="472.0" x2="874" y2="468.0" stroke="#d2d2d2" stroke-width="0.8" />
<line x1="850" y1="476.4" x2="874" y2="472.4" stroke="#d2d2d2" stroke-width="0.8" />
<line x1="850" y1="480.8" x2="874" y2="476.8" stroke="#d2d2d2" stroke-width="0.8" />
<line x1="850" y1="485.2" x2="874" y2="481.2" stroke="#d2d2d2" stroke-width="0.8" />
<polygon points="876.0,374.0 907.0,369.0 907.0,478.0 876.0,484.0" fill="#f1f1f1" />
<polygon points="880.0,451.0 904.0,447.0 904.0,476.0 880.0,480.0" fill="#dedede" />
<line x1="881" y1="454.0" x2="903" y2="450.0" stroke="#cacaca" stroke-width="0.7" />
<line x1="881" y1="457.8" x2="903" y2="453.8" stroke="#cacaca" stroke-width="0.7" />
<line x1="881" y1="461.6" x2="903" y2="457.6" stroke="#cacaca" stroke-width="0.7" />
<line x1="881" y1="465.4" x2="903" y2="461.4" stroke="#cacaca" stroke-width="0.7" />
<line x1="881" y1="469.2" x2="903" y2="465.2" stroke="#cacaca" stroke-width="0.7" />
<line x1="881" y1="473.0" x2="903" y2="469.0" stroke="#cacaca" stroke-width="0.7" />
<line x1="881" y1="476.8" x2="903" y2="472.8" stroke="#cacaca" stroke-width="0.7" />
<rect x="856.0" y="399.0" width="15.0" height="17.0" fill="#3b3b3b" />
<circle cx="858" cy="393" r="1.1" fill="#3a9"/>
<circle cx="864" cy="393" r="1.1" fill="#3a9"/>
<circle cx="870" cy="393" r="1.1" fill="#3a9"/>
<circle cx="863" cy="426" r="1.6" fill="#e02020"/>
<circle cx="888" cy="396" r="1.6" fill="#e02020"/>
<circle cx="898" cy="394" r="1" fill="#3a9"/>
<rect x="867.0" y="442.0" width="2.5" height="9.0" fill="#333" />
<rect x="881.0" y="439.0" width="2.5" height="9.0" fill="#333" />
<rect x="904.0" y="436.0" width="2.5" height="9.0" fill="#333" />
<line x1="941" y1="357" x2="937.5" y2="480" stroke="#3c3c3c" stroke-width="1.3" />
<line x1="947.3" y1="357" x2="946.5" y2="482" stroke="#5a5a5a" stroke-width="0.9" />
<line x1="1011.3" y1="361" x2="1005" y2="492" stroke="#2a2a2a" stroke-width="1.6" />
<rect x="1010.1" y="364.0" width="3.2" height="4.0" fill="#1a1a1a" />
<rect x="1008.1" y="404.0" width="3.2" height="4.0" fill="#1a1a1a" />
<rect x="1006.2" y="444.0" width="3.2" height="4.0" fill="#1a1a1a" />
<rect x="1004.3" y="484.0" width="3.2" height="4.0" fill="#1a1a1a" />
<line x1="1014" y1="359" x2="1008" y2="494" stroke="#e2e2e2" stroke-width="1.2" />
<polygon points="953.0,378.0 978.0,377.0 978.0,411.0 953.0,412.0" fill="#f2f2f2" />
<polygon points="953.0,378.0 960.0,378.0 960.0,412.0 953.0,412.0" fill="#9a9a9a" />
<polygon points="954.5,381.0 958.5,381.0 958.5,409.0 954.5,409.0" fill="#6e6e6e" />
<line x1="961" y1="380.5" x2="977" y2="380.5" stroke="#6a6a6a" stroke-width="0.6" />
<line x1="961" y1="383.1" x2="977" y2="383.1" stroke="#6a6a6a" stroke-width="0.6" />
<line x1="961" y1="385.7" x2="977" y2="385.7" stroke="#6a6a6a" stroke-width="0.6" />
<line x1="961" y1="388.3" x2="977" y2="388.3" stroke="#6a6a6a" stroke-width="0.6" />
<line x1="961" y1="390.9" x2="977" y2="390.9" stroke="#6a6a6a" stroke-width="0.6" />
<line x1="961" y1="393.5" x2="977" y2="393.5" stroke="#6a6a6a" stroke-width="0.6" />
<line x1="961" y1="396.1" x2="977" y2="396.1" stroke="#6a6a6a" stroke-width="0.6" />
<line x1="961" y1="398.7" x2="977" y2="398.7" stroke="#6a6a6a" stroke-width="0.6" />
<line x1="961" y1="401.3" x2="977" y2="401.3" stroke="#6a6a6a" stroke-width="0.6" />
<line x1="961" y1="403.9" x2="977" y2="403.9" stroke="#6a6a6a" stroke-width="0.6" />
<line x1="961" y1="406.5" x2="977" y2="406.5" stroke="#6a6a6a" stroke-width="0.6" />
<line x1="961" y1="409.1" x2="977" y2="409.1" stroke="#6a6a6a" stroke-width="0.6" />
<line x1="965" y1="379" x2="965" y2="410" stroke="#8a8a8a" stroke-width="0.5" />
<line x1="971" y1="379" x2="971" y2="410" stroke="#8a8a8a" stroke-width="0.5" />
<line x1="318" y1="399" x2="326" y2="569" stroke="#a4a4a4" stroke-width="2" />
<line x1="344" y1="402" x2="350" y2="580" stroke="#d0d0d0" stroke-width="1" />
<line x1="367" y1="404" x2="368" y2="583" stroke="#b0b0b0" stroke-width="1" />
<line x1="373" y1="406" x2="377" y2="588" stroke="#8f8f8f" stroke-width="3.5" />
<line x1="431" y1="414" x2="434" y2="612" stroke="#9a9a9a" stroke-width="2.5" />
<line x1="386" y1="408" x2="390" y2="592" stroke="#c8c8c8" stroke-width="1" />
<polygon points="382.0,427.0 404.0,430.0 404.0,445.0 382.0,442.0" fill="#e53935" />
<polygon points="404.0,430.0 411.0,428.0 411.0,444.0 404.0,445.0" fill="#cc1f1f" />
<rect x="413.5" y="435.0" width="5.0" height="7.5" fill="#e53935" />
<rect x="392.0" y="467.5" width="19.5" height="27.0" fill="#f4f4f4" stroke="#bbb" stroke-width="0.8"/>
<rect x="397.0" y="469.0" width="13.0" height="14.0" fill="#3c3c3c" />
<rect x="397.0" y="476.0" width="4.0" height="3.0" fill="#d94" />
<rect x="415.0" y="492.0" width="4.0" height="10.0" fill="#d32f2f" />
<rect x="379.0" y="509.0" width="21.5" height="35.0" fill="#f0f0f0" stroke="#d8d8d8" stroke-width="0.8"/>
<circle cx="389" cy="527" r="8.5" fill="#dcdcdc" stroke="#c8c8c8" stroke-width="0.8"/>
<line x1="271" y1="464.5" x2="322" y2="457.5" stroke="#3e3e3e" stroke-width="3" />
<line x1="271" y1="463.6" x2="322" y2="456.6" stroke="#8a8a8a" stroke-width="0.8" />
<line x1="322" y1="457.5" x2="356" y2="453" stroke="#a8a8a8" stroke-width="1.6" />
<ellipse cx="298" cy="460.8" rx="6" ry="3.6" fill="#6a6a6a"/>
<ellipse cx="298" cy="460" rx="4" ry="1.6" fill="#a0a0a0"/>
<line x1="298" y1="457" x2="299" y2="452.5" stroke="#555" stroke-width="1.2" />
<line x1="278" y1="451.5" x2="293" y2="450.5" stroke="#2e8a5a" stroke-width="1.3" />
<line x1="344" y1="403" x2="346" y2="457" stroke="#b9b9b9" stroke-width="1.6" />
<polyline points="312.5,324.0 400.5,324.0 400.5,392.0" fill="none" stroke="#58a6de" stroke-width="1.7"/>
<circle cx="312.5" cy="324" r="2.1" fill="#d50808"/>
<polyline points="448.5,259.0 421.0,259.0 421.0,390.0" fill="none" stroke="#58a6de" stroke-width="1.7"/>
<circle cx="448.5" cy="259" r="2.1" fill="#d50808"/>
<polyline points="656.5,271.0 656.5,371.0" fill="none" stroke="#58a6de" stroke-width="1.7"/>
<circle cx="656.5" cy="271" r="2.1" fill="#d50808"/>
<polyline points="883.3,252.0 883.3,350.0" fill="none" stroke="#58a6de" stroke-width="1.7"/>
<circle cx="883.3" cy="252" r="2.1" fill="#d50808"/>
<polyline points="1087.0,372.0 914.0,372.0" fill="none" stroke="#58a6de" stroke-width="1.7"/>
<circle cx="1087" cy="372" r="2.1" fill="#d50808"/>
<polyline points="156.0,475.0 321.0,475.0" fill="none" stroke="#58a6de" stroke-width="1.7"/>
<circle cx="156" cy="475" r="2.1" fill="#d50808"/>
<polyline points="181.5,587.5 181.5,527.0 322.0,527.0" fill="none" stroke="#58a6de" stroke-width="1.7"/>
<circle cx="181.5" cy="587.5" r="2.1" fill="#d50808"/>
<polyline points="424.0,612.0 424.0,665.0" fill="none" stroke="#58a6de" stroke-width="1.7"/>
<circle cx="424" cy="665" r="2.1" fill="#d50808"/>
<polyline points="471.5,612.0 471.5,647.3 547.0,647.3" fill="none" stroke="#58a6de" stroke-width="1.7"/>
<circle cx="547" cy="647.3" r="2.1" fill="#d50808"/>
<polyline points="785.5,549.0 785.5,589.5" fill="none" stroke="#58a6de" stroke-width="1.7"/>
<circle cx="785.5" cy="589.5" r="2.1" fill="#d50808"/>
<polyline points="970.7,411.5 970.7,487.0" fill="none" stroke="#58a6de" stroke-width="1.7"/>
<polyline points="970.7,511.0 970.7,582.2" fill="none" stroke="#58a6de" stroke-width="1.7"/>
<circle cx="970.7" cy="582.2" r="2.1" fill="#d50808"/>
</svg>
<div class="lbl" style="left:616px;top:168.3px;width:80px;height:25px;line-height:27.4px">全氟己酮喷头</div>
<div class="lbl" style="left:805px;top:160.7px;width:148px;height:25px;line-height:27.4px">储能电站用火灾探测装置</div>
<div class="lbl" style="left:440px;top:298px;width:80px;height:25px;line-height:27.4px">声光报警器</div>
<div class="lbl" style="left:221px;top:358px;width:70px;height:25.5px;line-height:27.9px">放气勿入</div>
<div class="lbl" style="left:1088px;top:416px;width:74px;height:25.5px;line-height:27.9px">水喷淋喷头</div>
<div class="lbl" style="left:149px;top:686px;width:63.5px;height:24px;line-height:26.4px">电动百叶</div>
<div class="lbl" style="left:379px;top:761.5px;width:90.5px;height:25.5px;line-height:27.9px">紧急启停开关</div>
<div class="lbl" style="left:756px;top:694px;width:63.5px;height:25px;line-height:27.4px">排烟风机</div>
<div class="lbl" style="left:954px;top:681px;width:51px;height:26px;line-height:28.4px">泄压窗</div>
<div class="lbl" style="left:30px;top:512px;width:119px;height:50px;line-height:18.5px;text-align:left;padding:8.5px 0 0 8.5px"><span style="letter-spacing:0.45px">KZ01-QY</span>储能电站用<br>火灾报警控制装置</div>
<div class="lbl" style="left:545px;top:768px;width:123px;height:48.5px;line-height:19.6px;text-align:left;padding:6.5px 0 0 11.5px">锂离子电池储能系统<br>自动灭火装置</div>
<svg class="abs" style="left:0;top:0" width="1200" height="857">
<defs><linearGradient id="metal" x1="0" y1="0" x2="1" y2="0"><stop offset="0" stop-color="#8a8a8a"/><stop offset="0.3" stop-color="#e8e8e8"/><stop offset="0.55" stop-color="#bdbdbd"/><stop offset="0.8" stop-color="#f0f0f0"/><stop offset="1" stop-color="#909090"/></linearGradient>
<linearGradient id="redg" x1="0" y1="0" x2="1" y2="1"><stop offset="0" stop-color="#ef3b2c"/><stop offset="1" stop-color="#c8161d"/></linearGradient></defs>
<rect x="642" y="206.5" width="28.5" height="26" rx="3" fill="url(#metal)"/>
<rect x="652" y="206.5" width="8" height="20" fill="#f4f4f4" opacity="0.8"/>
<ellipse cx="656" cy="231" rx="11" ry="3" fill="#dcdcdc"/>
<path d="M638.5,233 Q640,230 644,231 L668,231 Q672,230 673.8,233 L673,238 Q671,240 668,240 L644,240 Q641,240 639,238 Z" fill="#8d7f78"/>
<rect x="646" y="231.5" width="20" height="7" rx="2" fill="#c9ccd0"/>
<rect x="643" y="240" width="26" height="19.5" rx="1.5" fill="url(#metal)"/>
<line x1="643.5" y1="242.0" x2="668.5" y2="242.0" stroke="#a0a0a0" stroke-width="0.6"/>
<line x1="643.5" y1="245.0" x2="668.5" y2="245.0" stroke="#a0a0a0" stroke-width="0.6"/>
<line x1="643.5" y1="248.0" x2="668.5" y2="248.0" stroke="#a0a0a0" stroke-width="0.6"/>
<line x1="643.5" y1="251.0" x2="668.5" y2="251.0" stroke="#a0a0a0" stroke-width="0.6"/>
<line x1="643.5" y1="254.0" x2="668.5" y2="254.0" stroke="#a0a0a0" stroke-width="0.6"/>
<line x1="643.5" y1="257.0" x2="668.5" y2="257.0" stroke="#a0a0a0" stroke-width="0.6"/>
<ellipse cx="646.5" cy="220" rx="2" ry="2.6" fill="#4a4040"/><ellipse cx="665.5" cy="220" rx="2" ry="2.6" fill="#4a4040"/>
<rect x="833.6" y="199" width="5.4" height="9" rx="1" fill="#cc2a22"/><circle cx="835.8000000000001" cy="203.5" r="1.1" fill="#f5f5f5"/>
<rect x="833.6" y="224.5" width="5.4" height="9" rx="1" fill="#cc2a22"/><circle cx="835.8000000000001" cy="229.0" r="1.1" fill="#f5f5f5"/>
<rect x="925" y="199" width="5.4" height="9" rx="1" fill="#cc2a22"/><circle cx="928.2" cy="203.5" r="1.1" fill="#f5f5f5"/>
<rect x="925" y="224.5" width="5.4" height="9" rx="1" fill="#cc2a22"/><circle cx="928.2" cy="229.0" r="1.1" fill="#f5f5f5"/>
<rect x="838" y="196.7" width="88" height="38.3" rx="1.5" fill="#d62c22"/>
<rect x="838" y="196.7" width="88" height="3" fill="#e0392e"/>
<circle cx="847.5" cy="203" r="2.3" fill="#fff"/><rect x="851" y="202" width="5" height="1.6" fill="#f6c9c4"/>
<text x="896" y="207" font-size="7.2" fill="#fff" font-weight="bold" text-anchor="middle" font-family="Liberation Sans, sans-serif">复合火灾探测器</text>
<rect x="901.2" y="209.7" width="18.2" height="4.8" rx="2.4" fill="#a31c16" stroke="#f2d0cc" stroke-width="0.5"/>
<rect x="844.7" y="226.4" width="16.3" height="5.8" rx="2.9" fill="#fff"/><rect x="850" y="228.6" width="6" height="1.4" fill="#d62c22"/>
<circle cx="871.6" cy="230.7" r="1.2" fill="#222"/><rect x="870.0" y="225.6" width="3.4" height="1.2" fill="#f5d0cc"/>
<circle cx="877.8000000000001" cy="230.7" r="1.2" fill="#6a9a3a"/><rect x="876.2" y="225.6" width="3.4" height="1.2" fill="#f5d0cc"/>
<circle cx="884.0" cy="230.7" r="1.2" fill="#2a7a2a"/><rect x="882.4" y="225.6" width="3.4" height="1.2" fill="#f5d0cc"/>
<rect x="909" y="193" width="3" height="4" fill="#888"/>
<rect x="460" y="231.5" width="40" height="56" rx="2" fill="#e53a2b"/>
<rect x="464" y="234.5" width="32" height="20.5" fill="#ece9e2"/>
<polygon points="464,234.5 496,234.5 490,241 470,241" fill="#f6f4f0"/>
<polygon points="470,250 490,250 496,255 464,255" fill="#d9d4cc"/>
<rect x="472" y="242" width="16" height="5" fill="#faf8f2" stroke="#c9c2b6" stroke-width="0.6"/>
<rect x="472" y="236" width="17" height="1.2" fill="#e66050"/><rect x="469" y="251.5" width="22" height="1" fill="#e66050"/>
<path d="M467 257 L493 257 Q493 283 480 284 Q467 283 467 257 Z" fill="#f0452f"/>
<text x="480" y="261.5" font-size="3.6" fill="#fff" text-anchor="middle" font-family="Liberation Sans, sans-serif" font-weight="bold">F X HOH</text>
<line x1="472" y1="265" x2="488" y2="265" stroke="#cf2b1e" stroke-width="0.7"/>
<line x1="472" y1="267" x2="488" y2="267" stroke="#cf2b1e" stroke-width="0.7"/>
<line x1="472" y1="269" x2="488" y2="269" stroke="#cf2b1e" stroke-width="0.7"/>
<line x1="472" y1="271" x2="488" y2="271" stroke="#cf2b1e" stroke-width="0.7"/>
<line x1="472" y1="273" x2="488" y2="273" stroke="#cf2b1e" stroke-width="0.7"/>
<line x1="472" y1="275" x2="488" y2="275" stroke="#cf2b1e" stroke-width="0.7"/>
<rect x="202" y="303.5" width="99" height="43.5" fill="#e2e2e2"/>
<rect x="208.5" y="305" width="86" height="40" fill="#eeeeee"/>
<text transform="translate(251.6,339.5) scale(1,1.8)" font-size="20" fill="#8a1212" text-anchor="middle" font-family="Liberation Sans, sans-serif" font-weight="300" letter-spacing="0">放气勿入</text>
<path d="M1099.5,348 Q1102,339 1121.5,338.5 Q1141,339 1144,348 Q1138,344.5 1121.5,344.5 Q1105,344.5 1099.5,348 Z" fill="#bdbdbd" stroke="#8c8c8c" stroke-width="0.6"/>
<line x1="1103.0" y1="341.9" x2="1103.8" y2="345.3" stroke="#777" stroke-width="0.7"/>
<line x1="1107.6" y1="342.3" x2="1108.4" y2="345.6" stroke="#777" stroke-width="0.7"/>
<line x1="1112.2" y1="342.7" x2="1113.0" y2="345.9" stroke="#777" stroke-width="0.7"/>
<line x1="1116.8" y1="343.1" x2="1117.6" y2="346.2" stroke="#777" stroke-width="0.7"/>
<line x1="1121.4" y1="343.5" x2="1122.2" y2="346.5" stroke="#777" stroke-width="0.7"/>
<line x1="1126.0" y1="343.1" x2="1126.8" y2="346.2" stroke="#777" stroke-width="0.7"/>
<line x1="1130.6" y1="342.7" x2="1131.4" y2="345.9" stroke="#777" stroke-width="0.7"/>
<line x1="1135.2" y1="342.3" x2="1136.0" y2="345.6" stroke="#777" stroke-width="0.7"/>
<line x1="1139.8" y1="341.9" x2="1140.6" y2="345.3" stroke="#777" stroke-width="0.7"/>
<rect x="1117" y="344" width="9" height="6" rx="1" fill="#d8d8d8" stroke="#999" stroke-width="0.5"/>
<path d="M1109,382 L1108.5,356 Q1109,349 1117,347.5 M1134,382 L1134.5,356 Q1134,349 1126,347.5" fill="none" stroke="#b4b4b4" stroke-width="2.6"/>
<path d="M1109,382 L1108.5,356 Q1109,349 1117,347.5 M1134,382 L1134.5,356 Q1134,349 1126,347.5" fill="none" stroke="#e6e6e6" stroke-width="0.9"/>
<circle cx="1121.5" cy="353.5" r="1.8" fill="#b08a3a"/>
<rect x="1119.3" y="357" width="4.6" height="22" rx="1.5" fill="#e01a14"/>
<ellipse cx="1121.5" cy="381" rx="13" ry="2.5" fill="#b59a5a"/>
<rect x="1107.5" y="382" width="29" height="9" fill="url(#metal)"/>
<rect x="1110.5" y="391" width="23" height="14.5" rx="1.5" fill="url(#metal)"/>
<line x1="1110.5" y1="393.0" x2="1133.5" y2="392.0" stroke="#7a7a7a" stroke-width="0.7"/>
<line x1="1110.5" y1="395.8" x2="1133.5" y2="394.8" stroke="#7a7a7a" stroke-width="0.7"/>
<line x1="1110.5" y1="398.6" x2="1133.5" y2="397.6" stroke="#7a7a7a" stroke-width="0.7"/>
<line x1="1110.5" y1="401.4" x2="1133.5" y2="400.4" stroke="#7a7a7a" stroke-width="0.7"/>
<line x1="1110.5" y1="404.2" x2="1133.5" y2="403.2" stroke="#7a7a7a" stroke-width="0.7"/>
<rect x="61.4" y="425.8" width="57.2" height="75.9" rx="1.5" fill="#e6e6e6"/>
<rect x="63" y="427" width="54" height="73" fill="#ececec"/>
<rect x="67.5" y="432.5" width="44.4" height="21.9" rx="1.6" fill="#272727"/>
<rect x="70.2" y="434.6" width="17.5" height="9.9" fill="#7e8a73"/>
<rect x="72" y="436.5" width="13" height="1" fill="#6b7562"/><rect x="72" y="439" width="10" height="1" fill="#6b7562"/>
<rect x="90.5" y="435.5" width="4" height="2" rx="0.8" fill="#e4e4e4"/>
<rect x="90.5" y="438.5" width="4" height="2" rx="0.8" fill="#e4e4e4"/>
<rect x="90.5" y="441.5" width="4" height="2" rx="0.8" fill="#e4e4e4"/>
<rect x="105.5" y="435.5" width="4" height="2" rx="0.8" fill="#e4e4e4"/>
<rect x="105.5" y="438.5" width="4" height="2" rx="0.8" fill="#e4e4e4"/>
<rect x="105.5" y="441.5" width="4" height="2" rx="0.8" fill="#e4e4e4"/>
<circle cx="100" cy="439.5" r="4.6" fill="#e4e4e4"/><circle cx="100" cy="439.5" r="1.5" fill="#272727"/>
<rect x="70.2" y="447.6" width="6.3" height="2" fill="#e3201c"/><rect x="70.2" y="450.8" width="6.3" height="2" fill="#f2d200"/>
<rect x="78" y="447.8" width="32" height="1.6" fill="#7c8899"/>
<rect x="78" y="451" width="32" height="1.6" fill="#7c8899"/>
<rect x="67.5" y="458" width="44.4" height="10.7" rx="1.6" fill="#272727"/>
<circle cx="79.8" cy="460.8" r="1.6" fill="#f2f2f2"/><rect x="72.3" y="459.8" width="5" height="2" fill="#6e7580"/>
<circle cx="93.8" cy="460.8" r="1.6" fill="#f2f2f2"/><rect x="86.3" y="459.8" width="5" height="2" fill="#6e7580"/>
<circle cx="108.1" cy="460.8" r="1.6" fill="#f2f2f2"/><rect x="100.6" y="459.8" width="5" height="2" fill="#6e7580"/>
<circle cx="79.8" cy="466.1" r="1.6" fill="#f2f2f2"/><rect x="72.3" y="465.1" width="5" height="2" fill="#6e7580"/>
<circle cx="93.8" cy="466.1" r="1.6" fill="#f2f2f2"/><rect x="86.3" y="465.1" width="5" height="2" fill="#6e7580"/>
<rect x="69.3" y="473.7" width="14.3" height="10.2" rx="1" fill="#2c2c2c"/><rect x="71.5" y="476" width="10" height="5.5" fill="#3e3e3e"/>
<circle cx="95.3" cy="476.9" r="1.8" fill="#c9c9c9"/><circle cx="109.6" cy="476.9" r="2" fill="#bdbdbd"/>
<path d="M95 500.8 L97.5 494.5 Q98 493.5 99.5 493.5 L110.5 493.5 Q111.5 493.5 112 494.5 L113.5 500.8 Z" fill="#283048"/>
<circle cx="99.8" cy="497.3" r="1.6" fill="#dfe4ee"/><rect x="103" y="496.3" width="7" height="1.2" fill="#c5cbd8"/>
<rect x="68" y="496.5" width="24" height="1.1" fill="#8a8a8a"/>
<rect x="61.4" y="500.6" width="57.2" height="1.2" fill="#3a3a3a"/>
<polygon points="148,606.3 173.5,600.5 177,668 152,656.3" fill="#dedede"/>
<polygon points="150,607.5 172,602.5 175,664 153.5,654" fill="#e4e4e4"/>
<circle cx="160" cy="616.5" r="0.9" fill="#777"/><circle cx="163" cy="653" r="0.9" fill="#777"/>
<polygon points="173.7,600.3 212.3,592.7 213,650.7 178,676.3" fill="#d2d2d2"/>
<polygon points="180,606 209,599 209.5,646 182,667" fill="#cfcfcf"/>
<polygon points="181,608.3 209,601.0 209.3,609.0 181.5,617.3" fill="#dcdcdc"/>
<line x1="181" y1="608.3" x2="209" y2="601.0" stroke="#6e6e6e" stroke-width="0.9"/>
<polygon points="181,619.4 209,611.0 209.3,619.0 181.5,628.4" fill="#dcdcdc"/>
<line x1="181" y1="619.4" x2="209" y2="611.0" stroke="#6e6e6e" stroke-width="0.9"/>
<polygon points="181,630.5 209,621.0 209.3,629.0 181.5,639.5" fill="#dcdcdc"/>
<line x1="181" y1="630.5" x2="209" y2="621.0" stroke="#6e6e6e" stroke-width="0.9"/>
<polygon points="181,641.6 209,631.0 209.3,639.0 181.5,650.6" fill="#dcdcdc"/>
<line x1="181" y1="641.6" x2="209" y2="631.0" stroke="#6e6e6e" stroke-width="0.9"/>
<polygon points="181,652.7 209,641.0 209.3,649.0 181.5,661.7" fill="#dcdcdc"/>
<line x1="181" y1="652.7" x2="209" y2="641.0" stroke="#6e6e6e" stroke-width="0.9"/>
<rect x="402.7" y="675.1" width="44.8" height="71.9" rx="2.5" fill="#d9362d"/>
<rect x="444" y="676" width="3" height="70" fill="#c42a22"/>
<circle cx="424.4" cy="686.2" r="6.8" fill="#c9c9c9" stroke="#8a8a8a" stroke-width="0.8"/><circle cx="424.4" cy="686.2" r="3.4" fill="#d8342a"/>
<circle cx="424.4" cy="706.8" r="6.8" fill="#c9c9c9" stroke="#8a8a8a" stroke-width="0.8"/><circle cx="424.4" cy="706.8" r="3.6" fill="#f0d23a"/>
<rect x="408" y="685" width="5" height="2" fill="#f4c8c4"/><rect x="433.5" y="685" width="6" height="2" fill="#f4c8c4"/>
<rect x="408" y="705.5" width="5" height="2" fill="#f4c8c4"/><rect x="433.5" y="705.5" width="5" height="2" fill="#f4c8c4"/>
<rect x="406" y="718" width="37" height="1" fill="#f2b8b2"/><rect x="406" y="720.3" width="37" height="1" fill="#f2b8b2"/>
<rect x="406" y="677.5" width="10" height="1.5" fill="#f2b8b2"/>
<circle cx="424.5" cy="724" r="1" fill="#3c9"/><circle cx="435" cy="734" r="1.1" fill="#3c9"/>
<line x1="425" y1="736" x2="428.5" y2="751" stroke="#2a2a2a" stroke-width="1.6"/><circle cx="425" cy="735" r="2.3" fill="#bbb"/>
<polygon points="573.3,607.7 613.2,605.5 613.2,750 573.3,745" fill="#dedede"/>
<polygon points="574.3,608.7 612.2,606.5 612.2,749 574.3,744" fill="none" stroke="#ececec" stroke-width="0.8"/>
<polygon points="613.2,605.5 639.8,606.6 639.8,742.5 613.2,750" fill="#d2d2d2"/>
<line x1="613.2" y1="605.5" x2="613.2" y2="750" stroke="#c4c4c4" stroke-width="0.8"/>
<polygon points="573.3,745 613.2,750 613.2,762 575,757" fill="#2b2b2b"/>
<polygon points="613.2,750 639.8,742.5 639.8,752 613.2,762" fill="#1c1c1c"/>
<circle cx="595" cy="604" r="2.6" fill="#d23a2a"/>
<rect x="579" y="612" width="28" height="1.3" fill="#6a6a6a"/>
<rect x="581.5" y="621.5" width="20" height="19" fill="#f2f2f2" stroke="#c8c8c8" stroke-width="0.6"/>
<rect x="583" y="623.5" width="17" height="13" fill="#6b6b6b"/>
<circle cx="580.5" cy="651" r="2" fill="#2f9a6a" stroke="#eee" stroke-width="0.5"/>
<circle cx="587.5" cy="651" r="2" fill="#2f9a6a" stroke="#eee" stroke-width="0.5"/>
<circle cx="594.5" cy="651" r="2" fill="#2f9a6a" stroke="#eee" stroke-width="0.5"/>
<circle cx="601.5" cy="651" r="2" fill="#2f9a6a" stroke="#eee" stroke-width="0.5"/>
<circle cx="580.5" cy="661.5" r="1.8" fill="#c8c8c8"/><circle cx="590.5" cy="662.5" r="1.9" fill="#222"/><circle cx="601.5" cy="662.5" r="2.2" fill="#e23a2a"/>
<rect x="572.3" y="672" width="2.6" height="15" rx="1" fill="#333"/>
<circle cx="587.5" cy="718.6" r="2" fill="#2b6fd0"/><rect x="581" y="723.5" width="19" height="1" fill="#888"/>
<polygon points="770,603.9 823.3,608 817.6,652.3 787.3,671.8 786,609" fill="#cfcfcf"/>
<polygon points="788,611 819.5,610.5 815,650 789,666" fill="#c6c6c6"/>
<polygon points="770,603.9 823.3,608 786,609" fill="#e0e0e0"/>
<polygon points="748,600.5 786,609 786,681 755,653" fill="#ececec"/>
<polygon points="751,608 783,614 783,672 757,649" fill="#e2e2e2"/>
<polygon points="752,609.5 782,615.5 782,619.5 753,614.5" fill="#f2f2f2"/>
<polygon points="752,609.5 757,610.5 753.5,614.5" fill="#6a6a6a"/>
<polygon points="752,617.7 782,623.7 782,627.7 753,622.7" fill="#f2f2f2"/>
<polygon points="752,617.7 757,618.7 753.5,622.7" fill="#6a6a6a"/>
<polygon points="752,625.9 782,631.9 782,635.9 753,630.9" fill="#f2f2f2"/>
<polygon points="752,625.9 757,626.9 753.5,630.9" fill="#6a6a6a"/>
<polygon points="752,634.1 782,640.1 782,644.1 753,639.1" fill="#f2f2f2"/>
<polygon points="752,634.1 757,635.1 753.5,639.1" fill="#6a6a6a"/>
<polygon points="752,642.3 782,648.3 782,652.3 753,647.3" fill="#f2f2f2"/>
<polygon points="752,642.3 757,643.3 753.5,647.3" fill="#6a6a6a"/>
<polygon points="752,650.5 782,656.5 782,660.5 753,655.5" fill="#f2f2f2"/>
<polygon points="752,650.5 757,651.5 753.5,655.5" fill="#6a6a6a"/>
<polygon points="914.9,601.1 966.8,599.9 969.8,655.3 922.5,660.6" fill="#e9e9e9" stroke="#cdcdcd" stroke-width="1.6"/>
<polygon points="919.5,606.0 965.3,605.2 965.6,608.2 919.8,609.2" fill="#f7f7f7"/>
<line x1="919.5" y1="606.0" x2="965.3" y2="605.2" stroke="#9a9a9a" stroke-width="0.8"/>
<circle cx="963" cy="606.6" r="0.7" fill="#555"/>
<polygon points="920.1,611.0 965.3,610.2 965.6,613.2 920.4,614.2" fill="#f7f7f7"/>
<line x1="920.1" y1="611.0" x2="965.3" y2="610.2" stroke="#9a9a9a" stroke-width="0.8"/>
<circle cx="963" cy="611.6" r="0.7" fill="#555"/>
<polygon points="920.7,616.0 965.3,615.2 965.6,618.2 921.0,619.2" fill="#f7f7f7"/>
<line x1="920.7" y1="616.0" x2="965.3" y2="615.2" stroke="#9a9a9a" stroke-width="0.8"/>
<circle cx="963" cy="616.6" r="0.7" fill="#555"/>
<polygon points="921.3,621.0 965.3,620.2 965.6,623.2 921.6,624.2" fill="#f7f7f7"/>
<line x1="921.3" y1="621.0" x2="965.3" y2="620.2" stroke="#9a9a9a" stroke-width="0.8"/>
<circle cx="963" cy="621.6" r="0.7" fill="#555"/>
<polygon points="921.9,626.0 965.3,625.2 965.6,628.2 922.2,629.2" fill="#f7f7f7"/>
<line x1="921.9" y1="626.0" x2="965.3" y2="625.2" stroke="#9a9a9a" stroke-width="0.8"/>
<circle cx="963" cy="626.6" r="0.7" fill="#555"/>
<polygon points="922.5,631.0 965.3,630.2 965.6,633.2 922.8,634.2" fill="#f7f7f7"/>
<line x1="922.5" y1="631.0" x2="965.3" y2="630.2" stroke="#9a9a9a" stroke-width="0.8"/>
<circle cx="963" cy="631.6" r="0.7" fill="#555"/>
<polygon points="923.1,636.0 965.3,635.2 965.6,638.2 923.4,639.2" fill="#f7f7f7"/>
<line x1="923.1" y1="636.0" x2="965.3" y2="635.2" stroke="#9a9a9a" stroke-width="0.8"/>
<circle cx="963" cy="636.6" r="0.7" fill="#555"/>
<polygon points="923.7,641.0 965.3,640.2 965.6,643.2 924.0,644.2" fill="#f7f7f7"/>
<line x1="923.7" y1="641.0" x2="965.3" y2="640.2" stroke="#9a9a9a" stroke-width="0.8"/>
<circle cx="963" cy="641.6" r="0.7" fill="#555"/>
<polygon points="924.3,646.0 965.3,645.2 965.6,648.2 924.6,649.2" fill="#f7f7f7"/>
<line x1="924.3" y1="646.0" x2="965.3" y2="645.2" stroke="#9a9a9a" stroke-width="0.8"/>
<circle cx="963" cy="646.6" r="0.7" fill="#555"/>
<polygon points="924.9,651.0 965.3,650.2 965.6,653.2 925.2,654.2" fill="#f7f7f7"/>
<line x1="924.9" y1="651.0" x2="965.3" y2="650.2" stroke="#9a9a9a" stroke-width="0.8"/>
<circle cx="963" cy="651.6" r="0.7" fill="#555"/>
<polygon points="977.3,604 1018.8,607.5 1035.1,651.8 1032.8,661.2 1001.8,653.6 1000,648 1029,655 1015,612 981,609" fill="#cdcdcd"/>
<line x1="1001" y1="651" x2="1031" y2="658.5" stroke="#4a4a4a" stroke-width="1"/>
<polygon points="979.7,609.8 1011.2,615.1 1000.7,664.7 968.6,658.3" fill="#e7e7e7" stroke="#d4d4d4" stroke-width="0.8"/>
<rect x="983" y="612" width="6" height="7" fill="#d8dbe6"/>
<rect x="986" y="609.5" width="4" height="3" fill="#b0b0b0"/><rect x="1004" y="612" width="4" height="3" fill="#b0b0b0"/>
</svg>
<div id="title">方案设计</div>
<div id="sub">热失控探测报警系统 + 全氟己酮火灾抑制系统 + 水喷淋灭火系统</div>
<svg class="abs" style="left:0;top:0" width="1200" height="100">
<polyline points="177,45.5 165.5,57.5 177,69" fill="none" stroke="#9cc44a" stroke-width="1.25"/>
<polyline points="198,45.5 186.5,57.5 198,69" fill="none" stroke="#cfcfcf" stroke-width="1.3" stroke-dasharray="3,2"/>
<polyline points="1002,45.5 1013.5,57.5 1002,69" fill="none" stroke="#cfcfcf" stroke-width="1.3" stroke-dasharray="3,2"/>
<polyline points="1022.5,45.5 1034.5,57.5 1022.5,69" fill="none" stroke="#9cc44a" stroke-width="1.25"/>
</svg>
</div>
<div id="sec2">
<svg class="abs" style="left:0;top:0" width="1200" height="596">
<defs><radialGradient id="s2" cx="0" cy="0.05" r="1" gradientTransform="scale(0.55,0.45)"><stop offset="0" stop-color="#e5eef5"/><stop offset="0.5" stop-color="#ebf1f5" stop-opacity="0.6"/><stop offset="1" stop-color="#f4f4f5" stop-opacity="0"/></radialGradient></defs>
<rect width="1200" height="596" fill="url(#s2)"/>
</svg>
<div class="card" style="left:132px">
<h3>探测方面</h3>
<div class="txt">采用簇级探测的方式。每个电池簇作为一个防护子<br>单元，独立设置一套区域热失控探测报警系统。其<br>中，每个电池簇根据项目实际情况安装诺干复合探<br>测器。复合探测器集合了多种信号的探测，能够实<br>现早期的探测报警。</div>
</div>
<div class="card" style="left:624px">
<h3 style="left:42px">灭火方面</h3>
<div class="txt" style="left:42px;letter-spacing:0">采用电化学储能舱火灾抑制装置，装置采用全氟己酮<br>灭火介质，前期通过全氟己酮对热失控电池簇抑制，<br>另外独立设置以消防水源为灭火介质的水喷淋灭火系<br>统，后期手动接入，对储能舱持续降温。</div>
</div>
<svg class="abs" style="left:0;top:0" width="1200" height="596">
<defs>
<linearGradient id="ib" x1="0" y1="0" x2="0" y2="1"><stop offset="0" stop-color="#8fb6ee"/><stop offset="1" stop-color="#6f9fe6"/></linearGradient>
</defs>
<g transform="translate(0,-857)">
<!-- container illustration -->
<path d="M410,1322 L418,1327 Q428,1334 439,1337.5 L439,1349 Q418,1345 410,1336 Z" fill="#a9c2f1"/>
<path d="M418,1312 Q409,1315 410,1322 L418,1327 Z" fill="#1a5fe0"/>
<polygon points="432,1357 466,1345 568,1358 501,1381" fill="#a9c6f5"/>
<polygon points="445,1357 468,1349.5 556,1359 501,1376" fill="#d6e3fc"/>
<polygon points="432,1357 501,1381 501,1391 432,1367" fill="#3b8ff0"/>
<polygon points="501,1381 568,1358 568,1368 501,1391" fill="#1e63e0"/>
<polygon points="429,1278 540,1276 540,1364 429,1334" fill="#a9c5f2"/>
<polygon points="540,1276 578,1279 578,1355 540,1364" fill="#2c74ea"/>
<polygon points="545,1283 574,1285 574,1350 545,1357" fill="#4f8ff0"/>
<line x1="559" y1="1283" x2="559" y2="1354" stroke="#2c74ea" stroke-width="1.2"/>
<line x1="545" y1="1323" x2="574" y2="1321" stroke="#2c74ea" stroke-width="1.2"/>
<g stroke="#7fa8ec" stroke-width="1.2" fill="#c6d8f6">
<polygon points="431,1281 443,1281 443,1333 431,1330"/>
<polygon points="446,1281 463,1281 463,1338 446,1334"/>
<polygon points="466,1281 485,1281 485,1343 466,1339"/>
<polygon points="487,1280 514,1280 514,1351 487,1344"/>
<polygon points="517,1280 534,1280 534,1357 517,1352"/>
<line x1="517" y1="1320" x2="534" y2="1321"/>
</g>
<path d="M454 1295 L468 1289 L486 1300 L484 1325 L468 1334 L455 1327 Z" fill="#e6f7ea"/>
<path d="M466 1290 L486 1300 L484 1325 L470 1334 Z" fill="#8fd69c"/>
<path d="M468 1289 L472 1288 L489 1299 L486 1300 Z" fill="#4cbf5e"/>
<path d="M459 1312 L465 1318 L476 1306" fill="none" stroke="#f2dc5a" stroke-width="3"/>
<path d="M583.8,1315 Q592,1316 596,1322 L599.5,1320 L599.5,1328 Q596,1336 583.8,1342 Z" fill="#a9c2f1"/>
<path d="M583.8,1310 Q597,1313 599.5,1320 L596,1322 Q592,1316 583.8,1315 Z" fill="#1a5fe0"/>
<!-- extinguisher illustration -->
<polygon points="967,1352 1040,1330 1117,1352 1042,1376" fill="#cfe0fb"/>
<polygon points="977,1352 1040,1334 1106,1352 1042,1370" fill="#dbe7fd" stroke="#8fb6ee" stroke-width="1.5"/>
<polygon points="967,1352 1042,1376 1042,1390 967,1362" fill="#3b8ff0"/>
<polygon points="1042,1376 1117,1352 1117,1362 1042,1390" fill="#1e63e0"/>
<path d="M980 1310 L989 1306 L989 1322 Q996 1332 1010 1336 L1010 1346 Q982 1336 980 1322 Z" fill="#b3c9f2"/>
<path d="M980 1306 L989 1302 L989 1312 L980 1316 Z" fill="#1a64e0"/>
<path d="M1075 1302 Q1093 1308 1093 1320 L1093 1330 Q1088 1336 1075 1338 L1075 1326 Q1085 1322 1085 1316 Q1082 1312 1075 1310 Z" fill="#b3c9f2"/>
<path d="M1075 1302 Q1093 1308 1093 1318 L1085 1316 Q1082 1312 1075 1310 Z" fill="#1a64e0"/>
<rect x="1028" y="1276" width="32" height="82" rx="8" fill="#d42233"/>
<rect x="1028" y="1282" width="32" height="74" rx="4" fill="#d42233"/>
<circle cx="1032" cy="1276" r="2.5" fill="none" stroke="#d42233" stroke-width="1.5"/>
<circle cx="1056" cy="1276" r="2.5" fill="none" stroke="#d42233" stroke-width="1.5"/>
<rect x="1040" y="1272" width="8" height="6" fill="#d42233"/>
<rect x="1041" y="1259" width="6" height="13" fill="#e8cfa8"/>
<circle cx="1044" cy="1259" r="1.5" fill="#333"/>
<line x1="1029" y1="1291" x2="1059" y2="1291" stroke="#e04050" stroke-width="0.8"/>
<line x1="1029" y1="1334" x2="1059" y2="1334" stroke="#e04050" stroke-width="0.8"/>
<path d="M1006 1296 L1021 1290 L1038 1303 L1038 1328 L1022 1337 L1009 1329 Z" fill="#e6f7ea"/>
<path d="M1019 1291 L1038 1303 L1038 1328 L1022 1337 Z" fill="#8fd69c"/>
<path d="M1021 1290 L1024 1289 L1040 1302 L1038 1303 Z" fill="#4cbf5e"/>
<path d="M1013 1316 L1019 1322 L1030 1310" fill="none" stroke="#f2dc5a" stroke-width="3"/>
</g>
</svg>
</div>
<div id="sec3">
<svg class="abs" style="left:0;top:0" width="1200" height="125">
<g fill="#ffffff" fill-opacity="0.1">
<path d="M0,29 L74,42.5 Q80,43.6 80,37.5 L80,0 L171,9 L171,68 L88,50.7 Q82,49.5 82,55.5 L82,92 L0,69 Z"/>
<polygon points="237,0 293,0 293,27.7 237,19.7"/>
<polygon points="193,94.3 237,105 237,125 193,125"/>
<polygon points="56,109 100,123 100,125 56,125"/>
</g>
</svg>
<div class="abs" style="left:270px;top:50px;width:151px;height:26.5px;border-radius:13.5px;background:#fff"></div>
<svg class="abs" style="left:282px;top:53px" width="26" height="22" viewBox="0 0 26 22"><g fill="none" stroke="#0f6fe6" stroke-linecap="round"><path d="M7.4,6.8 Q7.6,13.2 16.3,16.6" stroke-width="3.4"/><path d="M11.8,3.7 A8.5,8.5 0 0 1 20.4,12.2" stroke-width="1.8"/><path d="M12.6,6.9 A4.7,4.7 0 0 1 17.3,11.6" stroke-width="1.8"/></g><circle cx="7.3" cy="6.3" r="2.6" fill="#0f6fe6"/><circle cx="17.3" cy="16.6" r="2.6" fill="#0f6fe6"/></svg>
<div class="abs" style="left:309px;top:52px;height:25px;line-height:25px;font-size:17px;font-weight:500;color:#1a6bd8;white-space:nowrap;letter-spacing:0.5px">24 小时热线</div>
<div class="abs" style="left:437px;top:45px;height:40px;line-height:40px;font-size:37.5px;font-weight:bold;color:#fff;white-space:nowrap;letter-spacing:0.35px">19141204342</div>
<div class="abs" style="left:689px;top:53.5px;width:1px;height:19.5px;background:#fff;opacity:0.85"></div>
<div class="abs" style="left:707px;top:52.5px;height:26px;line-height:26px;font-size:18px;font-weight:500;color:#fff;white-space:nowrap;letter-spacing:-0.2px">专属团队</div>
<div class="abs" style="left:786px;top:66px;width:3px;height:3px;border-radius:2px;background:#fff"></div>
<div class="abs" style="left:797px;top:52.5px;height:26px;line-height:26px;font-size:18px;font-weight:500;color:#fff;white-space:nowrap;letter-spacing:-0.1px">量身定制储能消防方案</div>

</div>
</body></html>
